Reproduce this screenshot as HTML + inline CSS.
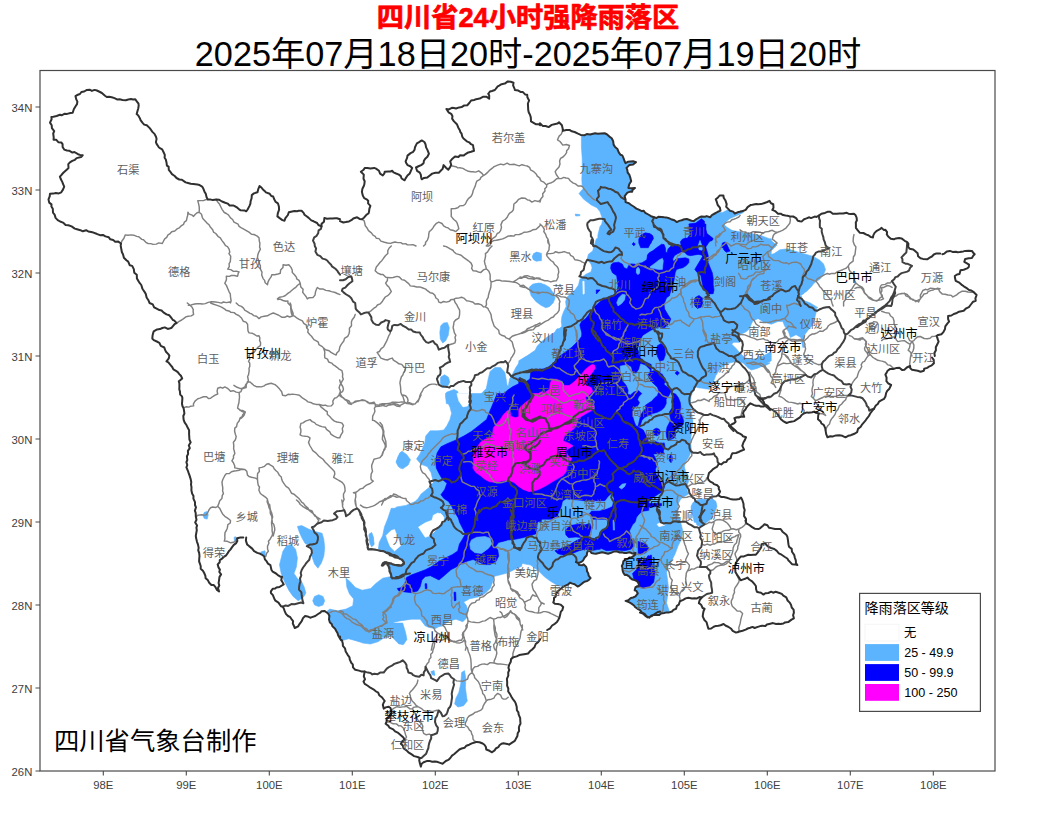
<!DOCTYPE html>
<html><head><meta charset="utf-8"><title>四川省24小时强降雨落区</title>
<style>
html,body{margin:0;padding:0;background:#fff;}
body{width:1055px;height:821px;overflow:hidden;font-family:"Liberation Sans",sans-serif;}
svg{display:block;}
.tk{font-family:"Liberation Sans",sans-serif;font-size:11.3px;fill:#404040;}
.lg{font-family:"Liberation Sans",sans-serif;font-size:12.6px;fill:#000;}
.cn{font-family:"Liberation Sans","Noto Sans CJK SC",sans-serif;font-size:11.2px;fill:#606060;}
.cb{font-family:"Liberation Sans","Noto Sans CJK SC",sans-serif;font-size:12.4px;fill:#000000;}
</style></head><body>
<svg width="1055" height="821" viewBox="0 0 1055 821">
<clipPath id="cp"><path d="M195.8 535.9 196.4 527.6 195.8 516.3 195 502.1 192.1 493.5 190.7 479.3 187.9 470.8 186.4 462.2 187.9 450.9 190.7 442.3 187.9 428.1 183.6 419.6 183.6 408.2 182.2 401.1 179.9 391.2 178.8 381.2 182.2 378.4 179.3 374.1 172.2 367 166.5 361.3 169.4 355.6 165.1 349.9 159.4 342.8 152.3 338.5 153.7 331.4 162.3 328 169.4 328.6 176.5 322.9 170.8 317.2 159.4 310.1 149.5 303 149.5 302.9 146.6 297.5 138.1 280.4 133.8 269.1 123.9 257.7 121 243.5 105.4 236.4 91.2 232.1 77 229.2 65.6 225 55.6 217.9 51.4 206.5 48.5 199.4 50 193.7 61.3 192.3 64.2 186.6 59.9 176.6 67 169.5 69.9 162.4 82.7 155.3 64.2 149.6 61.3 142.5 53.6 139.7 54.2 131.1 50 122.6 51.4 116.9 72.7 112.7 77 104.1 75.5 96.2 86.9 89.9 96.9 90.5 106.8 97 122.5 99.9 135.3 99.3 138.7 105.5 136.7 114.1 142.4 122.6 150.9 129.7 156 136.8 156.6 143.9 163.7 152.5 166.5 162.4 170.8 172.4 179.3 179.5 190.7 183.7 202.1 186.6 207.8 199.4 216.3 199.4 227.7 203.6 239.1 209.3 246.2 211.3 250.4 203.6 251.8 195.1 257.5 192.3 259.5 186 264.6 190.9 273.2 196.5 278.9 206.5 277.4 216.4 284.5 220.7 288.8 212.2 301.6 210.8 308.7 217.9 321.5 226.4 324.4 217.9 340 219.3 340 221.1 345.7 222.1 351.4 220.2 357.1 217.3 361.9 219.2 368.5 213.5 370.4 205.9 366.6 199.3 362.8 195.5 362.4 188.8 364.7 181.2 363.8 174.6 360.9 171.7 364.7 167.9 374.2 167.9 379 170.8 382.8 175.5 384.7 171.7 392.3 170.8 398.9 174.6 404.6 180.3 407.5 175.5 412.2 167.9 407.5 165.1 405.6 161.3 407.5 155.6 413.2 151.8 416 145.1 421.7 140.4 425.5 144.2 427.4 149.9 428.9 153.7 425.5 158.4 423.6 163.2 416 167.5 417 170.8 420.8 174.6 421.7 179.3 427.4 177.4 432.2 173.6 438.8 172.7 442.6 168.9 443.6 165.1 448.3 169.8 451.2 165.1 450.2 161.3 455 156.5 463.5 155.6 471.1 151.8 474 150.8 473 145.1 469.2 142.3 463.5 138.5 461.6 133.7 459.7 129.9 456.9 124.2 454 121.4 451.2 113.8 446.4 109 454 108.1 461.6 107.1 467.3 105.2 471.1 100.5 479.7 98.6 486.3 96.7 489.2 98.6 488.2 93.8 492 91 494.9 90 495.8 88.8 499.2 85.6 507.8 81.4 513.5 82.8 514.6 88.8 514.8 90 520.5 91.9 527.2 94.8 529.1 100.5 528.1 107.1 530 114.7 531 121.4 535.7 124.2 540.1 125.2 540 123.3 542.9 126.1 548.6 127.1 554.3 124.2 559 122.3 561.9 125.2 562.8 130.9 569.5 129.9 578 133.7 584.7 135.2 595.1 133.3 604.6 133.3 609.4 136.6 613.2 141.3 615.1 147 618.9 152.7 623.6 158.4 625.5 163.2 633.1 161.3 636 162.2 633.1 164.5 629.3 165.1 626.5 167.9 629.3 174.6 631.2 181.2 628.4 187.9 635 187.9 632.2 191.7 627.4 192.6 624.6 196.4 625.5 202.1 631.2 205 638.8 209.7 643.6 210.7 648.3 214.5 654 217.3 661.6 216.9 669.2 218.3 676.8 222.1 684.4 219.2 693.9 221.1 701.5 216.4 710.1 217.3 714.8 213.5 720.5 210.7 717.7 205 715.8 199.3 719.6 195.5 723.4 195.5 725.3 200.2 726.2 206.9 730 210.7 734.8 213.5 740.1 211.6 740 211.8 745.7 209.9 750.5 205.1 758.1 204.2 763.8 203.2 769.5 200.9 773.3 204.2 772.3 209.9 778 213.7 785.6 215.6 793.2 216.5 799.9 221.3 806.5 218.4 818.9 215.6 827.4 211.8 836.9 213.7 846.4 212.7 854 213.7 856.9 220.3 855.9 227.9 859.7 232.7 866.4 234.6 873 237.4 876.8 230.8 881.6 227.9 885.4 229.8 888.2 236.5 893.9 239.3 901.5 238.4 907.2 242.2 908.2 246.9 914.8 250.7 920.5 258.3 927.2 259.3 933.8 254.5 940.1 253.6 942.4 254.2 950 250.9 957.6 252.3 965.2 250.9 971.9 250.9 974.7 254.2 971.9 258 965.2 258.9 964.3 261.8 969 264.6 967.1 268.4 960.5 270.3 959.5 274.1 954.8 276 955.7 280.8 961.4 284.6 967.1 288.4 973.8 292.2 976.6 295 975.7 300.7 970.9 304.5 966.2 308.3 961.4 311.2 953.8 314 948.1 315.9 949.1 321.6 945.3 326.4 943.4 332.1 936.7 335.9 938.6 341.6 935.8 347.3 934.8 356 932 357.5 933.9 363.2 927.2 367.9 920.6 371.7 912 369.8 910.1 366 904.4 369.8 896.8 367.9 890.2 368.9 885.4 374.6 886.4 381.2 891.1 385 887.3 390.7 885.4 396.4 881.6 400.2 877.8 404 874 408.8 870.2 413.5 866.4 419.2 860.7 426.8 855 433.5 845.5 437.3 836 435.4 827.5 437.3 825.6 430.6 823.7 424.9 818 419.2 818.9 413.5 814.2 411.6 803.7 413.5 799.9 417.3 794.2 421.1 786.6 423 780.9 419.2 775.2 411.6 767.6 405.9 763.8 402.1 760 398.3 763.9 406.4 759 405.7 754.1 405.1 750.4 403.3 747.9 405.7 745.5 409.4 743 413.1 744.2 416.8 739.3 417.4 734.4 418.1 735.6 421.8 731.9 424.2 729.4 426.1 730 426.2 734.9 429.9 739.8 433.6 746 437.3 743.5 442.2 742.3 445.9 744.1 449.6 738.6 452 732.4 453.3 730.6 458.2 726.3 461.9 721.3 464.4 718.9 463.7 717 466.8 712.7 469.3 709 473 707.8 477.9 710.2 481.6 713.9 484.1 718.9 487.2 720.1 491.5 718.2 495.2 723.8 497 730 498.9 736.1 499.5 741 497.6 743.5 503.8 744.7 510 744.1 516.1 746 521 745.5 520.5 746.4 523.3 752.1 527.1 758.8 529 764.5 524.3 771.1 528.1 780.6 529 786.3 534.7 788.2 542.3 792 551.8 795.8 560.4 797.3 565.1 792 564.2 787.3 558.5 781.6 554.7 776.8 550.9 771.1 548 765.4 543.3 761.6 544.2 758.8 550.9 755.9 554.7 748.3 554.7 740.7 556.6 736.9 561.3 735 567 736.9 574.6 740.7 580.3 747.4 577.5 752.1 581.3 755.9 586 756.9 591.7 763.5 594.6 771.1 591.7 778.7 592.7 786.3 597.4 791.1 605 793.9 612.6 793.9 618.3 788.2 622.1 780.6 624 773 623.1 765.4 625.9 757.8 626.9 750.2 627.8 742.6 630.7 736 632.6 731.2 628.8 723.6 624 716 625.9 708.4 628.8 706.5 622.1 702.7 616.4 704.6 608.8 698.9 603.1 701.8 597.4 697 598.4 685.6 598.4 679.9 601.2 676.1 608.8 668.5 612.6 660.9 613.6 651.4 616.4 647.6 617.4 640 612.6 660 611.6 653.8 614.6 649.2 617.7 644.6 613.9 640.1 610.1 634 605.5 629.4 602.4 625.6 600.9 630.9 597.9 635.5 596.4 637.8 593.3 634.7 590.3 635.5 587.2 639.3 585.7 637.8 581.9 632.5 579.6 629.4 576.6 624.8 575 622.6 570.5 621.8 565.9 623.3 561.3 629.4 557.5 634.7 555.2 635.5 553 629.4 552.2 621.8 552.2 614.2 551.4 608.1 553.7 602 552.2 595.9 553.7 591.4 553 588.3 549.9 586.8 555.2 583 560.6 579.2 562.9 576.1 562.1 579.2 565.1 583.7 564.4 586.8 568.9 588.3 573.5 590.6 578.1 586.8 581.1 582.2 583.4 577.6 586.5 574.6 584.2 570 582.6 565.5 585.7 560.9 588.7 556.3 593.3 554 597.9 553.3 602.4 557.9 604 563.2 607 560.9 611.6 559.4 617.7 554.8 623.8 550.2 628.3 547.2 630 540.1 639.3 535.7 644 531.9 649.7 528.1 653.5 522.4 654.5 516.7 656.4 511 659.2 509.1 664.9 508.2 672.5 507.2 682 508.2 691.5 512.9 699.1 516.7 706.7 518.6 714.3 520.5 723.8 517.7 733.3 514.8 740.9 509.1 744.7 501.5 743.8 495.8 748.5 492 752.3 486.3 749.5 484.4 744.7 476.8 741.9 469.2 744.7 461.6 748.5 454 754.2 448.3 759.9 442.6 763.7 436.9 761.8 429.3 760.9 421.7 763.7 420.8 766.6 419.8 758 414.1 756.1 408.4 752.3 403.7 748.5 400.8 743.8 404.6 740 400.8 735.2 395.1 731.4 389.4 727.6 385.6 723.8 386.6 719.1 390.4 716.2 391.3 710.5 388.5 706.7 383.7 708.6 382.8 704.8 384.7 701 381.8 697.2 376.1 691.5 370.4 687.7 364.7 683.9 363.8 676.3 364.7 671.6 359 670.6 355.2 669.7 351.4 663 349.5 657.3 345.7 651.6 342.9 645.9 341.9 640.2 340 636.4 340.9 640.1 337.5 633.1 332.4 626.3 329 619.4 328.1 613.5 324.7 610.9 320.4 612.6 315.3 616 310.2 617.7 305.1 616 301.7 621.1 298.2 626.3 294.8 628 293.1 621.1 288 616 284.6 610.9 282.9 606.6 279.5 604.1 274.4 599 270.9 593 272.7 588.7 279.5 587 283.7 584.5 281.2 580.2 282 576.8 277.8 575.1 272.7 571.7 270.9 567.4 266.7 561.4 264.1 556.3 257.3 552.9 252.2 548.6 247.1 544.4 246.2 537.5 243.3 537.4 237.1 538.3 236.2 543.1 231.9 547.4 227.7 553.1 222 558.7 217.7 564.4 221.1 574.4 218.6 582.9 219.1 591.5 207.8 580.1 200.7 568.7 199.2 553.1 195.8 536Z"/></clipPath>
<g clip-path="url(#cp)">
<path d="M204.1 512.6 206.9 511.4 208.3 514.8 207.2 519.1 204.4 518.5 202.9 515.7ZM297.4 526.4 301.7 525.6 308.5 529 315.3 531.6 322.1 533.3 323.8 539.2 324.7 547.8 323.8 556.3 321.3 563.1 317.9 568.2 314.5 564 311.9 556.3 312.7 549.5 310.2 546.1 305.1 543.5 301.7 537.5 299.1 531.6ZM282.9 551.2 286.3 546.1 291.4 544.4 295.7 549.5 297.4 558 296.5 566.5 294 573.4 297.4 578.5 301.7 581.9 304.2 587 305.9 593 303.4 597.3 298.2 600.7 293.1 596.4 288.9 590.4 284.6 581.9 281.2 573.4 279.5 564.8 281.2 558ZM260.7 552 265 550.8 265.5 555.5 262.8 556ZM234.1 537.2 235.8 536.7 236.1 540.9 234.4 541.3ZM312.7 600.7 314.5 596.4 318.7 594.7 323 596.4 324.7 600.7 323 604.9 318.7 606.6 314.5 604.9ZM369.1 534.1 371.6 532.4 373.3 536.7 374.2 544.4 371.6 546.9 369.6 542.7ZM616 128 635 156.5 743.3 192.6 743.3 247.7 597 247.7 598 234.4 599.9 226.8 601.8 224 602.7 219.2 599.9 211.6 597 207.8 591.3 205 583.7 199.3 579 193.6 583.7 187.9 582.2 186 581.8 179.3 582.2 169.8 582.2 158.4 581.4 147 581.4 128ZM575.2 214.1 579.9 214.5 579.9 215.8 575.7 216ZM738.1 231.7 751.4 233.6 760.9 235.5 768.5 238.4 774.2 243.1 777.1 245 771.4 250.7 768.5 255.5 774.2 253.6 779.9 249.8 787.5 248.8 797 251.7 806.5 254.5 813.2 256.4 819.8 260.2 823.6 264 825.5 269.7 823.6 274.5 819.8 279.2 814.1 283 811.3 286.8 806.5 291.6 800.8 294.4 802.7 300.1 810.3 303 817.9 307.7 738.1 307.7ZM443.6 323 447.4 322.6 449.3 327.7 448.3 335.3 445.5 341 442.6 342.9 440.3 339.1 439.8 332.5 440.7 325.8ZM532.9 255.5 536.7 252.7 541.4 253.2 541.4 260.8 535.7 260.8 532.9 258.4ZM530 286.9 533.8 284 541.4 283.1 541.4 303 535.7 301.1 531 295.4ZM440.7 377.1 444.5 374.8 448.3 377.1 449.8 381.9 447.4 386.6 442.6 387.6 440.3 382.8ZM446.4 392.3 454 389.5 457.8 391.4 458.8 398 459.7 403.7 446.4 403.7 445.5 396.1ZM471.1 403.7 473 398 480.6 394.2 486.3 388.5 488.2 379 490.1 371.4 494.9 367.6 500.6 367.6 504.9 372.4 506.1 379 507.2 385.7 508.4 385.7 509.5 379 512.9 373.3 515.8 367.6 519.6 361.9 525.3 357.2 531.9 352.4 540.1 347.7 543.3 346.7 543.3 403.7ZM651.2 238.8 651.2 342.3 542.2 342.3 547.1 338.6 552 334.9 557 330.6 561.9 326.3 561.3 321.3 561.9 316.4 563.7 311.5 566.2 306.5 565.6 301.6 567.4 296.7 571.8 293 575.5 289.3 578.5 285 579.8 279.4 582.8 276.4 586.5 273.9 590.9 272 592.1 267.7 590.9 264 587.2 259.1 588.4 254.2 592.7 251.1 593.9 246.2 596.4 238.8ZM529.2 287.4 532.3 284.4 538.5 283.1 544.6 284.4 549.6 287.4 553.3 293 555.1 297.9 553.3 302.8 549.6 306.5 545.9 307.8 540.9 305.3 536 301.6 532.3 296.7 529.9 291.8ZM532.3 256.6 533.6 253.6 536.6 252.1 539.7 252.9 541.2 256.6 539.7 260.3 536.6 261.2 533.3 259.7ZM638.8 238.8 771.2 238.8 771.2 316.4 763.2 317 757.1 318.9 752.7 321.3 750.9 325 749.7 328.7 746 331.8 741 334.3 738.6 337.3 739.8 342.3 638.8 342.3ZM651.2 328.8 651.2 432.3 518.8 432.3 518.8 360.8 524.9 357.1 529.9 354.6 534.8 350.9 537.3 346 542.2 341.1 548.3 336.2 554.5 332.5 557 328.8ZM638.8 328.8 733.6 328.8 737.3 332.5 738.6 334.9 734.9 339.9 731.8 344.2 736.1 348.5 739.8 352.8 744.7 357.7 750.9 359.3 757.1 358.6 763.2 356.1 771.2 351.6 771.2 360.8 763.2 365.5 757.1 368.4 751.5 370 748.4 368.2 743.5 363.3 738.6 361.4 733.6 362 728.7 363.3 723.8 365.7 718.9 370.7 715.8 375.6 713.9 380.5 712.7 384.2 710.2 387.9 705.3 389.1 700.4 387.9 696.7 388.5 694.2 391.6 692.4 396.5 690.5 401.5 691.1 406.4 693 411.3 694.2 416.3 694.8 421.2 693.6 426.1 691.8 432.3 638.8 432.3ZM758.1 288.1 807.5 288.1 803.7 293.8 798 296.7 803.7 301.4 811.3 305.2 817 309 815.1 316.6 813.2 324.2 807.5 330.9 804.1 335.6 803.3 343.2 805.2 347 802.8 347.4 800.9 337.5 796.1 334.7 790.4 337.5 788.5 331.8 784.7 326.1 782.8 321.4 778.1 321.4 771.4 324.2 763.8 322.3 758.1 318.5ZM758.1 355.6 767.6 359.9 769.9 363.2 763.8 366.4 758.1 367ZM693.6 418.8 693 426.2 691.8 432.3 691.1 437.3 692.4 442.2 691.1 448.3 690.5 453.3 688.1 458.2 685.6 461.9 684.4 466.8 685.6 471.8 687.4 475.5 688.7 480.4 687.4 485.3 686.8 489 688.7 493.9 684.4 496.4 680.7 498.9 678.2 503.8 677.6 510 678.2 516.1 677 522.3 638.8 522.3 638.8 418.8ZM691.1 506.3 693 502.6 696.7 500.1 701.6 498.9 709 499.5 712.7 498.9 715.8 501.3 717 506.3 715.2 511.2 712.7 516.1 710.2 519.8 706.5 522.3 694.2 522.3 693 516.1 691.1 511.2ZM714.1 508.1 710.7 513.8 706.9 521.4 702.7 526.7 697 525.2 694.2 517.6 691.7 508.1ZM638.1 508.1 677.6 508.1 678 517.6 680.9 523.3 682.8 530.9 681.8 538.5 678 546.1 675.2 553.7 672.3 559.4 668.5 565.1 666.6 572.7 667.6 580.3 668.5 587.9 667.6 595.5 666.6 603.1 668.5 608.8 670 613.6 670 624 638.1 624ZM498.5 503.5 661.5 503.5 661.5 613.9 654.5 616.9 649.2 620 643.1 615.4 637 610.1 630.9 605.5 623.3 601.7 629.4 596.4 635.5 594.8 632.5 590.3 633.2 586.5 637 584.9 635.5 582.6 630.9 581.1 623.3 576.6 620.3 570.5 619.5 565.1 621.8 559.8 628.7 556 632.5 554.5 621.8 554 614.2 553.4 608.1 555.7 602 554 595.9 555.7 591.4 554.9 589.1 553 588.3 556.8 584.5 562.1 580.7 564.7 584.5 565.9 588.3 569.7 590.1 573.5 592.6 578.8 588.3 582.3 583 584.9 577.6 588.4 573.8 586 570 584.5 566.2 587.2 557.9 585.7 550.2 581.1 544.2 576.6 538.1 570.5 530.5 565.1 522.8 563.6 515.2 568.2 507.6 572 498.5 574.3ZM541.5 393.5 541.5 521.4 389.9 521.4 392.2 510.7 396.7 506.9 405.9 505.4 415 501.6 418.1 498.5 421.1 494 425.7 490.2 430.2 486.4 433.3 482.5 432.5 478.7 431 472.6 427.2 466.6 421.1 464.3 416.5 458.9 419.6 454.4 422.6 448.3 424.9 442.2 425.7 436.1 430.2 430.8 437.9 430.8 443.9 430 447 425.5 450 419.4 451.6 413.3 450 407.2 447 401.1 445.5 393.5ZM396 462 398.3 455.9 402.1 451.3 406.6 454.4 410.5 459.7 408.2 465 402.8 468.8 398.3 466.6ZM521.7 508.3 521.7 566.3 514 569.7 507.2 573.1 500.4 574.8 493.6 576.5 492.7 581.7 490.1 588.5 485 593.6 478.2 597 469.7 598.7 463.7 602.1 466.3 605.5 468 610.7 467.1 617.5 462.8 621.8 456 619.2 449.2 620.9 442.4 626 432.1 627.7 425.3 626 420.2 619.2 411.7 619.2 399.7 620.9 392.9 622.6 396.3 626 403.1 632.8 406.5 639.7 403.1 644.8 398 643.1 391.2 636.3 379.2 638 370.7 641.4 358.8 641.4 348.5 638.8 339.1 641.5 336.6 634.7 331.5 627 327.2 619.4 325.5 612.5 329.8 609.1 337.4 610.8 346 609.1 352.8 605.7 353.6 598.9 349.4 593.8 346.8 586.9 346 578.2 350.2 581.7 355.4 587.6 362.2 590.2 370.7 588.5 375.8 583.4 382.7 578.2 391.2 576.5 389.5 569.7 387.8 563.7 392.9 564.6 401.4 565.5 404 562.9 399.7 558.6 392.9 556.1 386.1 552.7 378.4 548.9 379.2 542.4 382.7 535.6 384.4 527.1 387.8 518.5 391.2 508.3ZM369 535.6 371.6 533 373.3 539 372.4 543.3 369.9 540.7ZM338.1 623.1 402.7 623.1 405.6 632.6 406.9 639.3 403.7 644 398.9 644 396.6 638.3 392.3 634.5 385.6 636.8 378 641.7 370.4 644 362.8 643.1 355.2 640.2 347.6 636.8 338.1 633.6ZM440.7 623.1 439.8 626 435 628.8 427.4 626.9 423.6 623.1ZM430.8 671.6 434.1 670.6 435 675.4 432.2 674.8ZM461.6 672.5 464.5 670.6 465.8 678.2 465.4 687.7 466.4 695.3 467.3 701 463.5 705.8 457.8 707.1 454.6 703.9 455.9 698.2 458.8 692.5 460.7 683.9ZM401.5 468.3 399.9 468 396.5 462.2 399.6 453.1 401.5 451.6Z" fill="#5cb4ff" stroke="#5cb4ff" stroke-width="0.6" stroke-linejoin="round"/>
<path d="M747.1 232.5 731.9 229.7 727.2 226.8 723.9 224 730 219.2 747.1 211.6ZM582.8 281.3 584.1 281.3 584.3 293.6 583.1 294.2ZM657.1 524.3 660.9 522.4 664.7 525.2 659 526.7ZM470.1 393.5 469.5 401.1 467.5 406 463 406.9 458.9 401.1 456.9 393.5ZM431.8 521.4 433.3 515.3 437.9 513 442.4 515.3 444.3 521.4ZM386.1 535.6 391.2 530.5 394.6 529.6 396.3 533.9 398.9 540.7 400.6 545.8 394.6 550.9 390.3 546.7 387.8 540.7ZM418.5 527.1 425.3 522.8 432.1 520.2 435.5 515.1 440.7 513.4 444.1 517.7 440.7 523.6 435.5 530.5 430.4 535.6 425.3 537.3 421.9 532.2ZM713.9 193.6 727.2 193.6 728.5 208.8 722.4 212 717.1 211.6Z" fill="#ffffff" stroke="#ffffff" stroke-width="0.6" stroke-linejoin="round"/>
<path d="M638.8 240.1 640.7 235.4 645.5 232.9 651.2 234.4 653.4 238.2 651.2 242 648.3 247.7 640.7 247.7 638.8 243ZM632.5 243.5 633.7 242.4 634.8 243.5 633.7 244.7ZM689.2 224 695.8 223 701.5 218.8 704.4 221.1 704.9 228.7 707.2 234.4 712.9 239.2 709.1 242 705.3 247.7 680.6 247.7 682.5 241.1 687.3 238.2 690.1 234.4 689.2 228.7ZM722.4 243 725.3 242 728.1 247.7 721.5 247.7ZM543.3 369.1 543.3 403.7 496.8 403.7 501.5 396.1 507.2 390.4 512.9 386.6 518.6 383.8 524.3 382.8 530 379 531 369.5ZM651.2 238.8 651.2 243.1 645.1 245.2 641.4 243.1 638.9 238.8ZM632.4 244.3 633.6 243.1 634.8 244.3 633.6 245.5ZM611.2 264.6 613.6 262.8 618.6 262.2 622.3 264 624.1 267.7 627.2 269 628.4 265.9 630.9 264 635.8 264.6 638.3 263.4 642 262.8 646.9 259.7 647.5 254.8 651.2 251.7 651.2 342.3 581.6 342.3 582.8 334.9 581 330 579.8 325 581.6 321.3 585.3 318.9 588.4 315.2 590.9 310.9 593.9 307.2 597.6 304.1 601.3 300.4 606.3 297.9 611.2 296.1 614.9 294.2 617.3 290.5 618 285.6 617.3 280.7 616.7 275.7 612.4 272.7 610.6 268.3ZM596.2 289.9 600.1 289.9 596.4 294ZM638.8 294.2 669.6 294.2 669.2 295.8 666.5 297.9 664 304.1 664.6 309 668.3 315.2 670.8 318.9 669 323.8 663.4 328.7 659.7 331.2 652.3 333.6 646.2 335.5 638.8 336.1ZM723.2 245.5 726.3 243.7 730 251.1 726.3 252.3 723.8 249.9ZM694.2 301.6 695.5 297.3 699.1 295.5 702.2 297.9 702.8 302.8 701 307.2 697.3 308.4 694.8 305.9ZM639 239.1 641.1 235.2 644.9 233.1 649.6 233.5 653 236.1 653 239.5 649.6 242.9 646.2 245.9 642.8 243.3 639.8 241.2ZM632.6 244.5 633.8 243.2 635.1 244.5 633.8 245.7ZM629.1 264.2 634.3 264.2 639.4 265.1 643.6 265.1 646.6 262.5 647.5 257.4 648.8 253.2 653 250.6 657.3 247.2 661.6 244.2 664.1 244.6 665.4 248 665.8 252.3 667.1 252.7 668 248.9 670.1 246.8 673.5 245 677.8 245.5 681.2 245 680.3 242.1 682 239.5 685.5 237.8 689.7 239.5 691.4 237.8 692.3 233.5 691 229.3 688.9 224.1 705.9 224.1 705.9 229.3 706.8 233.5 710.2 236.1 713.2 238.6 711.9 240.8 708.5 240.4 705.9 242.9 705.5 246.3 706.8 250.6 708.1 254.9 708.5 259.1 708.1 262.5 710.2 267.7 712.3 272.8 713.2 277.9 713.2 284.7 714 289.8 713.2 293.7 709.3 293.9 706.4 290.7 703.4 288.1 701.7 280.5 700.8 275.3 697.4 272.8 694.8 269.4 697.4 265.1 700 260.8 702.5 256.6 701.7 254.9 698.2 254.4 694.8 254.9 690.6 255.7 687.2 254.9 684.6 252.3 681.2 252.3 677.8 253.6 674.4 255.7 672.7 259.1 673.5 261.7 676.1 259.1 680.3 258.3 685.5 257.8 688.9 259.1 688.9 262.5 686.3 265.5 682.9 267.7 679.5 268.5 676.5 269.4 675.2 272.8 674.4 277.9 673.5 283 671.8 288.1 670.1 293.2 669.2 295.8 629.1 295.8ZM651.2 328.8 651.2 432.3 518.8 432.3 518.8 378.1 522.5 379.3 526.2 382.4 529.9 381.8 530.5 378.1 531.7 373.1 536 371.3 542.2 369.4 548.3 367 553.3 363.3 557 358.3 561.9 354.6 566.8 350.9 571.8 347.3 575.5 343.6 579.1 339.9 581.6 336.2 582.2 328.8ZM657.3 345.4 660.3 343.6 663.4 346 664.6 352.2 665.9 358.3 669.6 362 674.5 363.3 677 367 674.5 369.4 670.8 368.2 668.3 371.9 664.6 375.6 662.2 373.1 659.7 368.2 660.3 362 658.5 356.5 657 350.9ZM675.1 372.1 677.6 369.7 680 372.1 677.6 374.6ZM638.8 328.8 648.6 328.8 647.4 333.7 643.7 335.5 638.8 334.9ZM648.6 372.5 653.6 370.7 658.5 372.5 661.6 376.8 663.4 381.8 667.1 386.1 671.4 387.9 674.5 391.6 677 396.5 679.4 402.7 680.7 408.9 682.5 416.3 683.7 421.2 682.5 427.3 681.3 432.3 665.3 432.3 666.5 427.3 669 422.4 669.6 416.3 670.8 410.1 672.3 405.2 671.4 400.2 669.6 396.5 666.5 395.3 662.8 392.8 658.5 387.9 654.8 383 651.1 379.3 648.6 376.2ZM638.8 399 644.9 403.9 648.6 402.7 653.6 399 658.5 396.5 663.4 397.2 664.6 401.5 665.3 406.4 664 411.3 660.9 415 656 416.3 651.1 418.7 646.2 422.4 641.2 426.1 638.8 427.3ZM518.8 418.8 648.8 418.8 648.8 519.2 518.8 519.2ZM638.8 418.8 648.6 418.8 647.4 424.9 644.9 429.9 643.7 434.8 646.2 438.5 649.9 440.9 652.3 444.6 651.7 449.6 653.6 454.5 656 459.4 657.3 464.4 655.4 469.3 656 474.2 659.7 477.9 663.4 481.6 664.6 486.5 662.8 491.5 658.5 493.9 654.8 496.4 649.9 500.1 647.4 505 646.2 510 643.7 513.6 638.8 514.9ZM665.9 424.9 670.8 418.8 683.1 418.8 681.9 427.4 677 433.6 670.8 436 666.5 432.3ZM652.3 432.3 656 428.6 659.7 432.3 656 436ZM669.3 457 670.8 454.5 672.3 457 672.3 460.7 670.8 462.5 669.3 460.7ZM638.1 558.5 645.7 559.8 648 555.6 650.6 556.6 651.8 567 654.8 574.6 653.7 582.2 649.5 586.4 643.8 588.3 638.1 587ZM638.1 541.4 645.3 543.8 648.6 548 645.7 552.9 638.1 554.8ZM638.1 508.1 645.7 508.1 643.8 512.3 638.1 512.9ZM498.5 503.5 550.2 503.5 547.2 509.6 542.6 514.1 538.1 520.2 536.5 527.8 535.8 533.9 530.5 535.5 522.8 537.7 515.2 539.3 507.6 540 498.5 541.5ZM649.2 503.5 646.2 506.5 641.6 509.6 638.6 514.1 637 520.2 632.5 524.8 629.4 530.9 630.9 535.5 632.5 541.5 634 546.1 630.9 549.2 624.8 550.7 615.7 549.9 606.6 550.7 599 547.6 597.4 541.5 599 537 600.5 531.6 606.6 527.8 608.9 521.7 605.1 518.7 597.4 517.9 591.4 514.1 593.2 511.1 599 511.9 605.1 509.6 606.6 503.5ZM554.8 550.7 560.9 548.4 568.5 545.3 576.1 540.8 582.2 537.7 589.8 537.7 597.4 539.3 600.5 549.2 597.4 549.5 591.4 550.7 585.3 549.2 579.2 550.7 571.6 553.7 563.9 555.2 557.9 553.7ZM565.5 530.1 570 525.6 579.2 524 585.3 524.8 589.8 523.3 591.4 527.8 589.1 535.5 582.2 537.7 576.1 537 568.5 537.7 565.8 534.7ZM632.5 573.5 637 568.9 643.1 565.9 648.4 564.4 650 555.2 651.5 555.2 652.3 565.9 655.3 572 652.3 578.1 650 584.2 644.6 586.5 638.6 584.2 634 579.6ZM639.3 503.5 661.5 503.5 661.5 505.8 656.8 506.5 646.2 507.3 640.1 506.2ZM541.5 393.5 541.5 521.4 460.7 521.4 457.6 516.8 454.6 512.2 451.6 506.1 448.5 501.6 443.9 498.5 440.9 494.7 444.7 489.4 447 483.3 442.4 479.5 439.4 474.2 436.3 468.1 435.6 460.5 437.1 452.9 440.9 446.8 447 443.7 456.1 439.9 463.7 436.1 471.4 431.5 479 425.5 486.6 419.4 489.6 411.7 493.4 402.6 497.2 393.5ZM521.7 508.3 521.7 533.9 512.3 537.3 505.5 540.7 498.7 542.4 495.3 546.7 497.8 550.1 498.7 556.1 496.1 561.2 490.1 564.6 484.2 564.6 479.1 562 473.1 559.5 467.1 561.2 462.8 562.9 457.7 566.3 450.9 569.7 444.1 575.7 439 580 435.5 578.2 430.4 575.7 425.3 576.5 421.9 580 420.2 586.8 417.6 591 411.7 592.7 404.8 591.9 398.9 591 397.2 588.5 401.4 587.6 404.8 583.4 406.5 577.4 411.7 574.8 418.5 572.3 425.3 569.7 432.1 566.3 439 561.2 445.8 557.8 452.6 554.4 457.7 550.9 459.4 544.1 462 539.9 465.4 533.9 462.8 528.8 459.4 521.9 457.7 515.1 459.4 508.3ZM425 583.7 426.7 583.7 427 588.5 425.3 588.8ZM454 592.2 455.7 592.2 456 600.4 454.3 600.8Z" fill="#0000ff" stroke="#0000ff" stroke-width="0.6" stroke-linejoin="round"/>
<path d="M616.7 302.8 618.6 297.9 622.3 294.2 625.4 294.8 624.7 299.8 621.7 303.5 618 305.9ZM636.4 269 637.9 267.4 639.5 269 639.3 272.7 637.9 274.3 636.6 272.7ZM650 266.8 654.7 263.4 659 260 662.4 258.3 663.3 260.8 662.8 265.1 662.4 269.4 658.2 269.4 653.9 268.5 650.5 268.1ZM636.4 270.2 638.1 267.2 639.8 270.2 639.4 273.6 637.7 274.5 636.4 272.8ZM700 240.4 702.5 247.2 702.1 250.2 699.1 249.7 698.2 245.5ZM643.8 418.8 641.4 424.9 637.7 426.8 634.6 423.7 632.7 418.8ZM641.7 430.5 643.6 431.7 643.8 437.3 642.2 438.5ZM647.5 428.6 651.2 428.6 651.2 445.9 648.2 443.4ZM618.9 487.2 622.3 484.1 626 483.5 624.7 486.5 621.7 489ZM549.6 522.3 557 517.3 559.4 512.4 561.9 506.3 563.1 501.3 566.8 498.9 573 500.1 584.1 501.3 596.4 501.3 605 501.3 608.7 496.4 611.8 493.9 613.6 498.9 611.8 506.3 606.3 508.7 598.9 510.6 591.5 510.6 589 513.6 590.9 518.6 592.7 522.3ZM643.2 511.8 651.2 510.6 651.2 522.3 635.8 522.3 637.1 517.3 640.1 513.6ZM613 520.2 614.2 520.2 614.5 530.1 613.3 530.1ZM471.4 539.9 476.5 537.3 485 536.4 490.1 538.2 491.8 544.1 488.4 548.4 485 550.9 481.6 553.5 474.8 552.7 470.5 549.2 469.7 544.1ZM610.6 375.6 709.5 375.6 709.5 452.4 610.6 452.4ZM643 335.8 651.4 330.5 659 327.4 666.6 328.9 669.6 339.6 671.1 350.2 675.7 363.9 681.8 373.1 678.8 379.2 672.7 385.3 666.6 379.2 657.4 368.5 651.4 363.9 642.2 359.7 639.2 354.8 638 348.7 639.9 341.9ZM620.1 366.2 627 364.7 630.8 367 632.3 373.1 636.1 373.8 639.2 369.3 640.7 363.9 645.3 365.5 649.8 370 648.3 376.1 645.3 382.2 640.7 385.3 639.2 391.4 636.1 397.4 631.6 399.7 627 397.4 625.5 389.8 623.9 382.2 620.9 374.6Z" fill="#5cb4ff" stroke="#5cb4ff" stroke-width="0.6" stroke-linejoin="round"/>
<path d="M696 387.8 699.3 388.5 705 389.3 710.7 390.2 710.7 453.9 692.8 453.9 691.7 447.2 691.2 441.5 691.7 435.8 692.7 430.1 693.6 424.4 693.1 418.7 692.2 413 691.2 407.3 690.8 401.6 691.7 395.9 693.6 391.2Z" fill="#ffffff" stroke="#ffffff" stroke-width="0.6" stroke-linejoin="round"/>
<path d="M609.2 374.2 620.5 374.2 622.4 380.7 626.2 385.5 628.1 390.2 627.6 394 630.4 395 633.8 392.1 638.5 390.7 641.8 393.5 638.5 396.9 637.6 399.7 639.5 402.6 638 405.4 633.8 407.3 632.3 412.1 632.8 416.8 634.2 421.6 635.7 425.4 637.6 426.8 640.4 428.2 643.3 430.1 646.1 435.8 648 441.5 651.8 445.3 652.3 450.1 651.8 453.9 609.2 453.9ZM662.3 374.2 661.5 378.8 662.4 382.6 665.3 385.5 669.1 388.3 671 391.2 668.9 395.4 666.1 399.2 666.2 403.5 664.3 407.5 661.3 410.3 657.5 412.2 652.8 413.5 648 415.4 644.2 417.8 641.8 420.6 640.4 424.9 637.6 426.8 638.5 424.4 639.6 419.7 640.6 414.9 643.3 411.1 645.9 408.3 645.2 405.4 648 403.5 651.8 401.1 654.7 397.8 657.5 395.4 658.9 391.2 657.5 387.4 653.7 383.6 649.9 379.8 648 374.2ZM672.7 393.1 675.6 394 678.4 397.8 680.3 402.6 680.8 407.3 679.8 412.1 682.2 416.8 683.6 420.6 683.2 424.4 680.3 426.8 677.5 428.2 674.6 431.1 675.6 434.9 674.6 437.7 670.8 439.6 668 440.6 666.5 436.8 666.1 432 667 427.3 668.9 423.5 670.8 419.7 669.9 415.9 669.4 412.1 671.8 408.3 673.2 403.5 672.7 397.8ZM652.8 432 653.9 429.3 656.6 428.2 659.2 429.3 660.4 432 659.2 434.7 656.6 435.8 653.9 434.7ZM651.8 443.4 655.6 441.5 660.4 443.4 664.2 442.9 665.1 447.2 663.2 451 664.2 453.9 650.9 453.9ZM657.4 345.7 661.2 343.4 664.8 347.2 665.4 354.8 663.5 360.1 659.7 360.9 657.4 356.3 656.8 350.2ZM649.1 374.6 652.9 371.6 659 371.6 663.5 376.1 665.1 382.2 662 386.8 657.4 385.3 652.9 383 649.8 379.2ZM675.1 373.1 677.2 371 679.4 373.1 677.2 375.2Z" fill="#0000ff" stroke="#0000ff" stroke-width="0.6" stroke-linejoin="round"/>
<path d="M543.3 403.7 531.9 403.7 535.7 396.1 540.1 392.3 543.3 391.4ZM592.1 364.5 594.5 365.1 595.2 368.2 592.7 371.9 589 376.8 586.5 381.8 587.2 385.5 591.5 387.9 592.7 391.6 589 395.3 585.3 397.2 586.5 400.9 591.5 402.7 593.9 406.4 592.7 410.1 587.8 412.6 581.6 416.3 575.5 420 569.3 423.6 563.1 427.3 557 432.3 518.8 432.3 518.8 408.9 523.7 403.9 528.6 400.2 533.6 397.2 538.5 395.3 544.6 392.8 549.6 389.1 550.2 383 552 379.3 557 379.3 561.9 381.8 564.4 385.5 569.3 385.5 574.2 381.8 577.9 378.1 581.6 374.4 585.3 369.4 589 366.4ZM518.8 418.8 577.9 418.8 576.7 424.9 574.2 428.6 569.3 432.3 564.4 436 563.1 440.9 569.3 443.4 573 445.9 569.3 448.3 565.6 450.8 568.1 455.7 571.8 458.2 569.3 463.1 566.8 466.8 566.2 471.8 563.1 475.5 557 479.1 550.8 482.8 544.6 486.5 538.5 489.6 532.3 491.5 527.4 490.2 522.5 487.8 518.8 485.9ZM541.5 393.5 541.5 483.3 536.8 486.4 533.8 490.2 529.2 491.7 523.1 489.4 518.6 486.4 514 482.5 507.9 480.3 501.8 481 495.7 482.5 489.6 481.8 485.1 479.5 480.5 475.7 475.9 472.6 472.9 468.1 473.6 462 472.9 455.9 474.4 451.3 477.4 446.8 480.5 442.2 485.1 439.2 490.4 437.6 492.7 433.1 493.4 427.7 496.5 423.9 500.3 419.4 503.3 414.8 507.9 410.2 510.2 411.7 510.9 416.3 515.5 417.8 521.6 415.6 524.6 411.7 526.2 405.7 530.7 399.6 532.3 393.5Z" fill="#ff00ff" stroke="#ff00ff" stroke-width="0.6" stroke-linejoin="round"/>
</g>
<path d="M121 243.5 121.9 241 123.8 238.5 125.3 234.9 127.9 235.3 131.1 234.9 133.8 235.2 136.7 236.4 138.8 236.8 141.8 239.4 143.5 239.8 146.3 242.7 148.1 243.5 150.8 243.6 153 244.4 156.3 244.1 158.8 242.9 162.3 243.5 163.7 240.7 164.7 238.8 166.7 237.4 168 234.9 169.7 233.9 171.7 231.7 174.8 231 177 228.9 179.3 227.8 180.8 226.2 183.5 224.4 184.4 222.1 186.4 220.7 187.1 217.3 187.7 215.5 187.9 212.2 188.8 213.9 192.1 215.1 193.6 216.4 195.1 214.5 197.1 212.8 199.2 212.2 199.3 209.2 199.2 206.7 198.5 203.4 197.8 200.8 200.2 200.6 203.6 200.6 205.6 199.7 207.8 199.4M199.2 212.2 201.5 214.2 202.3 217.3 202.8 218.6 204.9 220.7 207 223.1 209 224.7 210.1 226.7 212.7 229.7 213.5 232.1 215.8 233.5 218.3 236.7 220.3 237.9 222 240.6 224.1 243.3 225.5 245.7 227.5 246.6 229.1 249.1 229.8 252.2 228.9 253.6 230.7 256.1 230.5 259.1 230.3 261.7 229.1 263.7 229.3 266.7 227.7 269.1 230.7 269.6 233.5 271.4 236.4 271.3 239.1 271.9 238.3 273.2 237.6 276.2 234.3 275.5 231.4 275.5 229.3 276.4 226.3 276.2 226.5 278.9 226.2 280.4 224.8 283.3 226.4 285.4 227.6 288.2 229.1 291.8 230.3 293.9 230.5 297 231.1 300.6 230.5 302.9M216.3 199.4 217.3 201.5 219.4 203.9 220.5 206.2 222 209.3 224.3 212.5 226.3 213.5 228.4 214.8 230.5 217.9 232.6 219.5 234 222.2 238.1 224.2 239.1 226.4 241 227.6 243.3 228.9 247.2 231.1 249 232.1 251.5 234.3 254 234.5 257.2 236.1 259 237.8 259.3 241.1 259.9 243 259.6 247.2 260.4 249.1 258.7 252.3 257.8 255 257.5 257.7 258.7 260.5 259 262.6 260.4 265.7 260.4 269.1 262 272.1 261.7 275 263.1 278.6 264.6 280.4 265.2 282.8 267.5 284.7 267.9 282.4 269 279.9 271.2 276.7 271.8 274.7 274.7 274.8 278 274 280.3 273.3 280.6 270 283 267.4 283.1 264.8 285.9 265.3 288.8 264.8 291 267.4 292.2 270 292.3 272.5 294.5 274.7 296.5 277.4 296.7 278.8 299 280.3 300.2 283.3 300.8 286.9 303.1 289.2 302.7 292.3 304.5 294.6 306.2 296.7 307.3 298.9 309.2 297.7 313 297.5 315 295.1 315.5 291.8 316.4 289.4 317.3 287.5 319.5 288.9 322.8 288.9 325.8 290.4 328.9 290.8 331.5 291.6 335.2 292.5 337.2 293.5 340 294.6M300.2 283.3 297.6 285.3 295.8 287.3 294.2 288.4 292.8 289.5 290.2 291.8 288.2 293.1 285.1 295.7 282.8 296.6 279.7 297.2 277.4 298.9M176.5 323.5 178.7 321.6 181.7 320 183.6 318.6 185.9 316.9 188.1 316.2 191.3 315.9 193.6 314.4 193.1 311.6 193.3 309.6 192.1 307.3 189.8 305 187.3 303M210.6 303 213.7 304.2 216.4 305.1 219.9 306.4 222 307.3 224.8 309.1 226 310.2 229.7 311.3 230.6 312.3 234.1 312.6 236.2 314.4 238.7 315.5 241.5 318 243.2 321.2 246 322.1 247.6 324.3 247.7 326.6 248 330.9 249 332.9 252.4 333.3 254 334.1 256.8 336 259 335.7 259.9 338 259.6 340.4 260.6 342.8 260.4 345.7 258.5 346.8 255.9 349.5 254.3 352.1 251.1 353.5 249 355.6 249.8 359 248.5 361.5 249.7 362.9 249.8 366.3 249 368.4 249.2 370.7 248.5 374.8 247.6 376.5 248.4 380.5 247.6 382.6 245.6 384.8 245.2 386.5 242.3 388.3 240.9 391.7 239.1 392.6M236.2 303 238.6 305.3 241.4 306.4 243.5 308.1 244.7 310.1 246.9 311.3 250 313.4 251.5 313.7 253.8 315.6 256.5 316.3 259 318.6 261.1 316.9 264.3 316.2 267.4 315.8 269.9 314.3 273.2 313 275.4 313.8 278.3 315 281.7 317.2 284.7 317.3 287.3 316 289.7 317 293.1 315.8 293.1 313.2 291.8 310.1 291.2 308.2 290.9 304.7 290.2 303M183.6 407.6 186.6 406.8 188.9 407.1 190.8 406.2 193.6 405.9 193.4 403.9 195 401.1 197.8 398.8 200 398.1 203.5 396.8 206.6 396.7 208.4 398.5 210.6 398.3 212.4 396.8 215.1 395.2 217.7 394 217.1 391.2 217.7 388.3 220.7 387.3 222.7 388.2 224.8 386.9 227.6 388.4 228.6 389.3 230.5 391.2 233.3 390.7 236.2 392.1 239.1 392.6M239.1 392.6 239.4 395.3 239.5 397.5 239.1 400.3 239 402.3 238.2 405.2 237.6 408.2 239.9 409.8 242.3 411.6 244.7 412.5 242.6 414.9 242.2 416.6 240.1 417.9 239.1 421 237.2 423.4 236.6 426.6 234.8 428.1 234.6 431.3 235.4 434.4 236.2 436.6 235.4 439.8 233.4 442.3 233.8 445.7 233.6 448.6 234.4 451.5 234.8 453.7 233.4 456.2 233.6 457.9 231.9 460.8 233.4 462.7 234.7 465.8 234.8 467.9 237.5 468.4 240 468.9 241.4 468.9 244.7 469.4M244.7 469.4 241.4 469.4 239 470.3 236.2 470.8 234.3 471 231.5 471.7 229.4 473.5 226.3 473.6 224.7 475.8 222.7 479.8 222 482.1 222.3 484.8 222.8 488.1 222.6 490.9 223.4 493.5 222.3 495.3 221.9 498.5 219.7 500.7 219.1 502.9 217.7 506.3 215.9 507.5 212.6 507 210.6 507.7 209.1 509.6 207.8 512.4 206.4 514.8 204.5 515.1 201.8 514.8 198 515.2 196.4 516.3M244.7 469.4 246.8 471.3 247.5 475.1 249 476.5 251.5 477.2 255.5 478.1 257.5 479.3 257.4 476.2 257.6 473.5 259.4 471.5 259 467.9 261.7 467.4 264.5 466.3 266.9 464 268.9 463.7 270.1 464.9 273.1 466.6 274.1 468.7 276 470.8 277.8 472.3 279.4 475.3 281.3 477 281.7 479.3 282.5 481.4 284.7 484.6 286 486.3 288.6 488.1 290.2 490.7 291.6 493.3 294.1 494.2 295.6 495.6 298.7 498.2 300.5 500.4 301.6 502.1 303.5 503.4 305 505.5 308 508.1 309.1 510.5 311.4 512.2 313 513.4 314.9 516 316.9 517 320.1 519.1M257.5 479.3 257.7 482.1 258.3 485.3 259.5 487 258.9 490.2 260.4 493.5 262.6 495.2 265.7 497.3 267.5 499.2 267.1 501.8 268.3 504.6 269 507.6 270.2 509.9 270.3 513.4 271.9 516.7 271.9 518.6 272.4 522.9 273.7 524.2 274.6 527.6 274.8 529.8 274.1 532.5 273.2 535.9M217.7 506.3 219.6 508.2 221.5 511.9 222.6 513.9 224.8 516.3 226.8 517.6 228.5 518.8 230.5 520.5 230.3 523 227.9 524.6 227.3 528.2 226.3 530.5 225 532.6 224.8 535.9M224.8 536 225 538.2 224.3 541.1 227.3 541.3 230.8 542.8 233.4 542.3 235.2 541.3 237.1 538.3M361.9 219.2 364.2 220.9 364.7 223 365.3 225.8 366.7 227.4 368.5 230.6 371.4 232.8 373 235.2 375.2 236.3 376.2 238.3 379 238.6 380.9 241.1 384.5 242.2 387.5 243 390.5 243.4 393 242.5 395.1 242 397.7 242.6 400.8 242.6 402.7 243.9 406 243.8 407.4 244.8 410.3 244.9 412.9 244.7 416 246M483.5 175.5 480.9 177.4 480 179.4 476.8 181.2 475.8 183.8 475.3 185.9 474 188.8 473.2 190.5 472.4 193.9 471.1 196.4 468.4 198.6 466.8 201 465.4 204 463.5 205.5 459.7 205.9 457.8 207.8 455.3 208.5 451.2 208.8 451.2 211.6 451.3 213.5 451.2 216.4 453.8 219.5 455.9 221.1 457 222.7 458.1 225.9 458.8 228.7 455.9 231.6 453.6 230.5 450.2 229.7 447.9 227.8 446.2 227.4 443.6 225.9 442 223.5 438.8 222.1 436.4 223.3 434.1 225.9 432.6 228.5 430.7 230.5 429.3 231.6 428.8 233.9 428.5 237.2 427.4 240.1 425.5 242.5 425.5 244.2 423.6 246M452.1 166 455.9 166.7 457.8 167.9 459.8 167.7 462.9 168.4 465.4 169.8 468.4 171.3 471.2 171.7 473 171.7 475.7 172.1 478.7 170.8 482 173.3 483.5 175.5M483.5 175.5 485.4 174.4 487.9 172.1 490.1 169.8 492.3 168.2 494.1 166.6 497.7 165.1 500.5 164.1 503.6 164.8 507.2 163.2 509.7 164.6 514.1 164.3 516.7 165.1 519.2 165.9 522 164.7 525.3 165.6 527.2 166 529.6 167.3 530.5 169.8 533.8 171.7 536.4 174.2 537.1 175.9 540.1 178.4M540.1 200.2 538.3 201.5 534.9 200.6 531.9 202.1 529.3 200.1 527.7 200 525.3 198.3 521.6 198 518.6 199.3 516.3 202.2 513.9 204 513.7 206.2 513.4 209.7 512 211.6 509.7 213.2 508.7 214.3 507.2 217.3 505.2 219.5 502.5 221.1 500.9 224.9 501.5 227.1 500.6 230.6 499.1 232.6 497.2 233.5 495.8 236.3 493.2 238.1 491.3 240 490.1 242 488.3 243.7 486.3 246M562.4 131.4 561.2 134.2 559.1 136.1 557.5 139.8 560 141.5 560.8 142.5 562.8 145.1 566.3 144.5 569.5 145.5 568.5 148.8 566.6 150.8 566.6 152.7 565.4 154.4 563 157 560.5 158.4 559.6 161.1 560 164.1 559 167 556.7 169.4 555.2 171.7 556.4 174.7 557.2 175.8 559 178.4 561.2 178.6 563.8 177.4 565.9 178 568.5 178.4 570.2 180.7 573.3 183.1 575.5 183.9 578 186 581.1 186 582.8 186.9 584.1 189 586.6 191.9 587.5 193.6 589.6 195.6 592.3 198.3 594.7 199.9 597 200.2M559 178.4 556.6 178.7 553.5 181.6 551.4 182.7 548.2 183.6 546.7 185 546.6 187 544.8 188.8 545 191 542.7 193.8 542.9 196.4 540.9 198.7 540 202.1M540 179.3 541.4 181.2 543.8 182.2 546.7 185M540 224 542.9 226.8 544.4 229.6 543.8 231.5 545.7 234.4 546.6 237.2 548 239.1 548.6 242 549.5 246M740.1 215.4 738.8 217 736 218.4 733.8 219.2 731.9 219.7 730 221.8 727.2 222.1 725 223.4 722.4 225.9 723.9 227.6 725.3 230.6 722.5 232.1 720.5 234.4 719.2 236.5 715.8 238.2 716 240.9 715.5 242.7 715.8 246M789.8 216.5 790.4 220.2 789.8 223.2 788.5 224.9 786.2 227.8 784.7 228.9 782.5 230.3 780.5 231.2 778 232.1 774.6 233.8 773.3 235.5 772.3 239.3 774.5 240.7 777.1 243.1 774.8 244.9 772.3 247.9 770 250.9 767.6 251.7 768.3 254.6 768.5 256.4 771.5 258.6 773.3 260.2 775.3 260.6 778.7 260.6 780.9 262.1 784 263.1 786.3 262.7 788.5 264 791.3 262.8 794.2 262.1 797.3 262.3 800.8 264 802.4 267.2 804 268.7 804.6 271.6 802.9 275 802.7 277.3M778 232.1 776 232.3 772.3 230.3 770.4 230.8 768.6 231.5 765.2 231.9 762.8 233.6 760.2 232.2 758.4 231.9 755.2 231.7 753 231.7 749.6 233.3 747.6 233.6 745.8 232 742.5 231.6 740 229.8M740 245 742.3 246.2 745 246.7 747.6 248.8 750.9 248.4 752.6 246.7 755.2 246.9 757.6 246.3 760.9 244.1 762.7 244.9 766 244.9 768.5 245 770 246.4 772.3 247.9M767.6 251.7 765.2 254.2 762.8 256.4 763.6 259.2 764.1 261.3 764.7 264 765.2 267.4 764.2 269.9 763.8 273.5 759.9 274.1 757.1 275.4 755.6 277 753.8 278.8 751.4 281.1 750.1 284.2 747.6 286.8 747.4 289.8 746 291.8 744.8 295.4M854 234.6 853.4 237.2 853.1 241.2 854.3 244.7 855.9 246.9 855.7 248.7 855.3 251.8 855 254.5 853.4 257 853.1 261.2 849.7 263.7 848.3 265.9 849 269.4 850.2 271.6 853.1 273.7 854 275.4 854.8 278.7 854.4 280.1 855.9 283 859.1 285.7 861.6 286.8 863.6 289.1 864.5 292.5 866 294.4 868.1 296.6 871.1 298.2 873.2 299.9 876.8 301.1 879.2 299 880 297.8 882.5 296.3 881.7 294.4 880.1 292.7 879.7 289.7 880.4 286.4 881.6 284.9 885.2 284.4 887.6 282.9 890.1 283 892 281.1M848.3 265.9 845.8 268.4 842.6 269.7 840.2 270.6 837.2 271.7 835 273.5 831.8 273.4 829.1 274.2 827.4 273.5 824.6 274.7 821.7 276.4 819.8 277.3 817.2 278.9 816 281.1 818.4 284.2 819.8 286.8 821.4 288.2 822.8 290.4 825.5 292.5 826.7 295 829.6 298.4 831.2 300.1 832.1 303.4 833.1 306M816 281.1 813.8 280.7 810.3 279.2 808 278.8 805.6 276.4M855.9 283 853.9 285.6 852.1 288.7 849.7 291.1 849.1 292.6 846.4 294.4 845.5 296.1 845.5 299.5 843.6 302 843.6 306M895.8 296.3 898.1 294.4 901.5 293.5 904.6 293.5 907.2 294.4 908.6 296.1 910.8 298.3 912.9 300.1 916.7 300.7 918.6 302 919.8 299.4 922.4 296.3 924 294 927 293.4 928.1 291.6 930.5 290.6 933.8 289.7 937.1 288.3 940.1 288.7M894 296.9 896.2 295.7 898.7 294.1 901.5 293.9 904.4 293.1 906 295.8 909 297.1 910.1 298.8 913.4 299.5 915.8 301.7 917.7 300.3 920.6 298.8 920.3 295.4 921.5 293.1 922.8 290.5 925.3 289.3 927.3 289.9 930.5 288.1 932.9 288.4 936 288.9 938.6 289.3 939.7 291.6 942.4 294.1 945 294.2 948.1 295 951.4 295.4 952.9 296.9 956.3 295.2 958.6 293.1 962.2 291.1 965.2 291.2 968 292 970.8 292.3 973.8 292.2M855 288.4 857.1 287.5 860.7 287.4 862.6 289.3 864.5 293.1 866.9 295.1 868.5 297.6 870.2 298.8 872.6 300 875.9 300.7 878.4 300.2 881.1 299.9 883.5 298.8 881.6 295.9 880.7 293.1 881.9 290.9 881.6 287.4 883.9 287.4 887.3 285.5 889.4 285.9 892.1 287.4M881.6 311.2 884.8 312.4 886.3 312.8 889.2 313.1 890.4 315.7 893 317.8 894.1 321.2 894 323.5 895.3 326.7 896.8 329.2 895.7 332.4 895.4 334.8 894.9 336.8 896.4 339.9 897.8 341.6 901.5 340.9 904.4 340.6 906.9 342.4 910.1 344.4 909.6 347.6 908.2 350.1 910.5 352.2 910.8 353 912 356M910.1 344.4 912 341.5 913.9 340.6 915.2 338.9 917.7 336.8 920.3 336.5 924.2 338.5 927.2 338.7 930.1 338.2 931.9 336.5 934.8 336.2 936.7 335.9M869.3 323.5 872.5 322.8 874 321.6 876.8 322.1 877.8 323.5 875.8 325.7 875.9 327.3 874.2 328.4 871.2 328.3 869.9 326.9 869.3 323.5M855 338.7 858.1 339 860.6 338.3 862.6 337.8 864.1 339.6 866.4 341.6 866.3 344.5 864.5 348.2 865.1 350.6 867.3 353.1 868.3 356M881.6 340.6 883.8 339 887.3 338.7 890.1 337.6 892 337.3 894.9 336.8M391.3 246 389.2 248 387.8 250.6 387.8 253.4 385.6 255.5 383.5 258.3 381.8 260.7 380.1 262.2 378 265 376.3 266.9 375.2 270.7 377.3 272.8 380.9 274.5 383 274.4 385.8 277.2 387.5 277.4 387.4 280.5 385.6 283.1 387.3 285.6 388.9 287 390.4 289.8 391.3 291.6 389.2 294.3 388.1 295.3 385.3 297 383.7 299.2 382.1 301.8 380.1 303.9 377.4 305 376.1 306.8 373.6 308.4 371.3 310.6 368.5 312.5M387.5 277.4 390 277.8 393.1 277.5 397 276.4 399.4 277 401.7 279.6 404.6 280.2 407.1 282.4 408.7 283.6 410.3 285.9 413.9 286.3 416.8 287 419.8 286.9 422.2 287.8 425.7 289.1 427.4 290.7 430.1 292.7 432.7 293.3 435 295.4 435.9 298 438.1 299.5 438.8 302.1 440.9 302.8 443.5 301.5 446.4 302.1 449.6 301.3 450.7 299.8 454 299.2M454 299.2 456.1 298.2 458.5 298.1 461.6 297.3 463.8 298.1 466.6 300.8 469.2 301.1 473.1 302.3 474.9 304 478.2 303.7 481.6 304.9 483.6 306.9 485.4 306.8 486.5 304.6 486.3 301.7 486.7 299.9 488.2 297.3 488.4 295.5 489.4 291.7 490.1 289.7 490.8 287.2 491 284.7 491.1 282.1 490.1 279.5 490.2 276.7 490.1 274.5 488.9 271.3 486.3 268.8 485.7 265.8 485 264.2 484.4 261.2 485.2 258.1 485.6 255.9 485.4 253.6 487.6 251.9 488.7 250 490.1 247.9 492 246M491.1 282.1 494.1 281.1 496.5 280.2 499.6 280.2 502.4 281.1 504.2 281 507.2 281.2 510 281.5 512.9 282.1 515.7 280.5 518.6 278.3 521.9 278.2 523.9 277.1 526.2 277.4 528.4 278.5 532 278.8 533.8 279.3 536.9 278 540.1 278.3M512.9 282.1 516.4 282.6 518.6 284 520.5 285.7 523.5 285.3 525.3 286.9 527.8 288.7 529.9 290.2 531.9 291.6 534.6 292.5 538.1 292.2 540.1 292.6M443.6 246 446.3 246.6 448.5 247.9 450.2 248.9 453.2 250.5 453.6 251.4 455.9 253.6 458.5 254.4 461.2 255.3 463.5 257.4 466.4 259.4 468.4 260.8 471.1 263.1 472.3 265.9 471.6 268.4 473 270.7 476.1 271 477.6 271.7 480.6 272.6 483.5 269.9 486.3 268.8M454 299.2 455.1 302.5 456.9 304.9 457.9 307.2 459.5 309.9 459.7 311.6 459.5 315.2 458.8 318.2 455.6 320 454 322 453.7 324.5 453.1 327.7 453.7 329.7 454.3 332.7 455.9 335.3 455 337.4 455.6 340 455 342.9 452.7 343.8 449.3 344.8M485.4 306.8 487.9 308.4 488.6 310 490.1 312.5 491.1 314.9 491.5 317.8 492 320.1 492.9 322.6 494.1 326 495.8 327.7 498.7 330.2 499.3 333.6 501.5 335.3 504.8 336.2 505.7 337.7 509.1 339.1 512.2 342.1 512.9 344.8 513.5 347.3 514.8 350.5 514.4 352.8 512.5 356.2 511 358.1 510.5 360.2 508.3 363.4 508.2 365.7M509.1 339.1 512.2 336.3 514.8 335.3 517.8 334.4 520.6 333.5 522.4 332.5 525.7 331 527.4 328.7 530 327.7 532.9 326.4 535.6 325 537.3 324.4 540.1 323M390.4 331.5 390.1 333.6 388.7 335.9 387.5 339.1 386.6 341.1 385 344.2 383.7 346.7 381 348.9 379.4 351.5 377.1 352.4 379.1 355.3 380.9 358.1 384.7 359.5 387.5 360 389.7 358.9 392.3 358.1 393.4 360.2 396.7 362.2 398.9 363.8 401.7 364.4 403.8 367 405.6 367.6 404.6 371 403.7 372.6 402.7 375.2 401.4 376.8 400.4 380.3 399.9 382.8 400.5 386.5 400.7 389.1 400.8 392.3 401.9 395.2 403.1 396.9 403.8 399.6 404.6 402M436.9 384.7 434.7 384.1 432 384.1 429.3 384.7 426.8 386.4 423.6 388.5 422 391.7 420.6 393.9 419.8 396.1 419.2 398.9 417.9 402M355.2 314.4 354.2 317.2 352.2 319.8 351.4 322 351.5 325.7 349.4 328.3 349.5 331.5 348.9 334 347.7 336.3 344.5 338.4 343.8 341 341.4 344.1 340 346.7M547.7 240 548 242.9 549.6 244.9 549.1 247.6 549 249.9 547.4 252.3 546.5 254.8 547.2 256.4 549 258.5 550.9 260.5 553.3 262.2 554.4 264.2 557 266.5 558.2 268.3 558.8 272 557.9 275.1 558.2 277 556.4 280.7 553.8 281 550.8 281.9 547.3 280.6 544.6 280.7 542 279.8 538.5 278.8 535.4 278.3 532.3 277 529.9 276.7 527.4 275.7 524.2 276 522.5 277.4 520 277M546.5 254.8 547.8 253.6 550.8 253.6 553.6 253.1 555.7 251.7 558.6 252.7 561.9 252.3 564.2 251.6 567.6 252.9 569.3 252.9 570.5 255.3 573 256.6 574.8 259.7 577 260 580.4 260.9 582.3 262.2 585.3 263.4M520 286.2 523.7 287.4 525.6 287.5 528.6 289.3 531.3 290.4 532.3 292.4 536.3 292.5 538.5 293.6 542 292.2 544.6 292.4 547.1 292.4 550.8 294.2 552.4 295.1 555.1 295.5 558.2 297.9 560 301.6 559.3 303.5 559.4 306.5 559.1 310.3 557.6 312.7 554.8 315 553.3 317 551.2 317.8 548.3 320.1 545.4 321.3 543.4 322.6 540.8 324.3 538.9 325.8 537.3 326.3 535.7 326.8 533.4 329.6 531.1 330 528.5 330.4 524.9 332.4 522.2 333.4 520 333.6M555.1 295.5 558.6 295.6 560.7 296.7 562.4 296.9 565.6 297.3 567.7 298.7 569.3 300.4 569.1 303.2 568.7 305.3 567.4 309 569.8 310.8 570.5 312.7 572.7 313.9 574.2 315.2 575.5 318.9 577.9 321.3M622 254.8 621 258.5 622.6 260.4 624.7 262.2 627.7 263.4 629.7 264.6 632.2 266.8 634.6 267.1 636.2 266.1 638.3 264.6 642 265.9 645.5 266.3 646.9 267.7 650 269M611.8 296.1 615.2 294.6 617.3 293 619.9 291.7 622.3 291.1 626 291.8 626.8 294.6 628.4 295.5 629.3 297.1 630.9 299.1 629.7 302.8 631.4 305.1 632.1 306.5 634.3 307.7 635.8 309 638.6 308.4 640.1 307.8 641.8 306.6 643.2 304.1 644.5 300.4 645.5 298.6 648.2 297.9 650 294.2M593.3 307.2 594.7 310 595.8 312.7 598.9 315.2 599.9 318.5 601.3 320.1 602.5 323.7 601.9 326.3 602.5 329.5 603.8 331.2 605.9 332.9 608.7 334.9 611.3 336.9 613.6 337.3 616.7 338.4 618.6 338.6 621 341M628.4 323.8 627.8 325.7 626 328.7 624.4 331.6 623.5 333.6 623 336.6 621.2 337.9 621 341M574.2 326.3 575.4 329.1 576.7 331.2 577 333.2 577.3 336.1 577 339.1 576.1 341M630 265.1 631.9 266.4 634.3 266.8 636.4 264.4 638.5 263.8 640 265.1 642.8 265.9 645.5 267.4 647.1 268.1 649.9 269.4 653 269.4 655.6 271.9 659 273.6 661.7 272.9 664.1 272.3 666 271.3 669.2 271.1 671.3 268.7 673.5 267.7 673.7 265.4 674.4 263.4 675.5 261.6 676.9 260 676.6 258.5 677.8 255.7 679.9 255 681.2 252.7 683.7 251.9M659 273.6 659 276.2 657.7 277.9 659 281.3 658.2 283.2 658.2 286.4 656.1 287.8 653.9 289.8 652.4 290.7 649.6 292.4M720 233.5 717.9 236 716.2 236.1 715.3 239.5 717 242.1M720 248.9 717 251.4 716.2 254.9 713.7 256.1 711.9 258.3 710 259.2 707.6 260.8M698.2 280.5 695.8 280 693.1 280.5 689.8 281.2 688 283 684.5 284.7 682.9 286.4 682.4 287.8 680.3 289.8 681.2 291.8 681.2 295M696.7 280.7 695.2 281.8 691.8 281.9 688.7 284 686.8 285.6 683.7 287.3 681.9 288.1 680.8 289.7 680.7 293 678.8 294.6 677 296.7 673.9 298.1 672 297.9 670.4 300.1 668.3 301.6 665.7 303.1 664.6 304.1 662.7 304.9 660.9 306.5 658.4 307.1 654.8 307.8 652.4 310.6 652.3 312.7 650.7 313.6 647.4 313.9 645.3 314.7 641.7 314.2 640 315.2M680.7 293 681 295 683.1 297.9 683.7 301.5 685 304.1 685.9 308 686.8 310.2 688.6 312.4 689.3 316.4 692.2 318.4 694.2 318.9 697.1 318.4 700.4 317 703.9 316.8 706.5 316.4 709.4 316.2 712.7 317.6 715.1 316.7 718.9 316.4 721.3 315.2M700.4 317 701 318.7 702.2 320.8 702.8 323.8 702.8 325.5 703.2 328.3 704.1 331.2 706.3 334.6 706.5 337.3 705.3 341M658.5 309 660.4 312.6 660.9 315.2 661.9 318.1 663.9 318.9 664.6 321.3 668.1 323 669.6 325 672.6 323.5 674.5 321.3 677.3 320.7 680.7 320.1 682.3 322.2 684.2 323.2 686.8 325 689.3 326.3 690.1 324.2 692.9 321.5 694.2 318.9M704.1 259.7 707.5 257.7 710.2 257.3 711.9 255.8 713.7 254.5 716.4 253.6 718.6 251.7 720.1 248.6 721.5 246.3 723.8 244.9 726.3 242.5 729.5 244.5 731.2 246.2 734.2 244.5 736.5 243.6 738.6 243.7 740.5 244.3 743.2 244.4 746 244.9 747.8 243 750.9 241.2 754.6 240M738.6 273.3 740.4 276.4 741 278.2 744.8 279.1 747.2 278.2 748.4 276.5 750.9 275.7 753.2 274.9 755.8 272 758 272.1 760.1 272.2 763.2 270.8 765.7 270.2 768.2 268.3 770 264.6M747.2 294.8 747 292.7 748.4 289.3 750.2 286.4 750.9 283.1 751.6 280.5 753.4 278.2M741 302.8 741.4 304.8 743 306.5 744.7 309 747.9 310.7 749.7 312.7 750.4 315.5 752.1 318.9 754.1 320.3 755.8 323.8 757.5 325.2 759.5 326.3M575.5 330 576.2 331.9 576.2 335.3 576.7 337.4 576.6 340.1 577.9 341.5 577.9 344.8 578.3 347.3 578.9 349.2 580.4 352.2 580.4 355.1 581.6 358.3 578.9 360.1 577.9 362 576.6 363.3 574.2 365.7 574.8 368.5 576.7 370.7 575.1 371.8 574.2 374.4 571.2 375 569.3 374.4 567.2 373.6 564.4 371.9 561.6 370.1 559.4 368.2 556 367.8 553.3 365.7M532.3 378.1 535.4 378.6 538.5 379.3 541.8 378.3 544.6 378.7 548.3 379.6 550.8 379.3 554.3 379.7 557 380.5 559.9 381.1 561.9 381.8 563.4 384.7 563.1 386.7 563 389.4 564.4 391.6 566.9 394.1 569.3 396.5 571.7 395.7 575.5 394.1 578.4 393.8 581.6 391.6 583.7 392 586.5 394.1 588.4 396.8 589 399M533.6 395.3 536.1 394.9 539.7 396.5 542.5 395.8 545.9 394.1 549.4 394.6 552 396.5 554.5 397.9 557 399 558.7 400.7 561.9 402.7 565.5 402.7 568.1 401.5 569.7 400.2 573 400.2 575.5 401.4 577.9 402.7 578.8 405.1 579.1 408.9M581.6 358.3 583.6 359.1 586.5 360.8 590.2 361.7 592.7 362 595.1 360.8 597.6 360.8 600.3 360.5 603.8 359 606.3 362 607.3 365.4 608.7 367 611 366.2 613.6 365.7M574.2 365.7 574.9 368.1 577.2 370.4 577.9 371.9 579.2 373.9 581.6 375.6 584.1 376.9 586.5 379.3M613.6 365.7 616.8 367.9 618.6 369.4 620.4 372.8 622.3 374.4 620.3 377.1 619.8 379.3 618.5 381.7 616.1 383 618.5 386.5 621 387.9 622.9 389.6 624 392 626 394.1 626.8 395.9 628.4 399 626 401 623.5 402.7 623.3 404.7 620.1 406.8 619.8 408.9 617.2 410.4 616.1 412.6M624.7 360.8 625.8 363.7 626.2 364.6 628.4 367 629.8 369.3 632.1 371.9 633.5 374.2 635.8 376.8 638.9 378.4 640.8 379.3 642.8 380.6 645.7 381.8 647.8 380.6 650 379.3M628.4 399 630.9 398.6 633.4 396.5 635.1 393.6 637.1 391.6 637.1 388.3 638.3 385.5 638.2 382.4 636.2 379.9 635.8 376.8M579.1 408.9 580.7 407.4 582.1 404.9 584.7 402.8 586.4 401 589 399 591.9 399.6 593.9 401.5 593.3 404.2 593.8 406.7 593.9 408.9M589 399 590 396.6 591.5 395.3 593.1 393.1 594.9 391.3 596.4 389.1 597.1 386.9 598.9 384.2 601.3 383.3 603.9 383.2 606.3 383 608.5 382.1 610.8 383.7 613.6 383.1 616.1 383M602.6 330 605.3 332.9 606.3 334.9 609.3 336 610.8 336.5 613.6 338.6 615.8 340 618.6 339.5 621 341.1 622.3 337.6 623.5 334.9 623.9 332.5 626 330M621 341.1 618.9 344.3 618.6 347.3 616.7 349.4 613.6 350.9 612.5 353.1 611.2 354.6M621 341.1 624 342.3 625.8 343.3 628.4 343.6 632 343.3 634.6 342.3 637.8 341.6 640.8 339.9 644.1 340.9 646.2 341.4 650 341.1M545.9 418.7 548.1 417.9 550.8 415 554.2 414.2 557 412.6 560.8 413.3 563.1 413.8 566 415.1 569.3 416.3 572.4 416.8 574.2 416.3M702.8 330 703.8 333 705.3 336.2 706.6 339.2 707.8 342.3 710.5 343 713.9 342.9M699.1 380.5 701.8 381.6 704.1 383 706.9 383.3 710.2 384.2 713.9 383 717.2 381.2 718.9 379.3 721.3 377.5 723.8 375.6 725.6 373.5 728.7 371.9 729.4 369.4 730.9 368.4 732.4 365.7 734.1 364.5 734.9 362 737.3 361.4M691.8 402.7 695.6 401.8 697.9 400.2 700.7 400.5 704.1 399 707.2 400.4 709 401.5 709.5 399.8 712.3 398.3 713.9 396.5 717.2 395 718.9 392.8 722.8 392.9 725 392.8 725.6 395.9 726.3 399 728.5 399.7 731.4 399.6 733.6 400.2 736.8 399.4 738.6 399.7 741 399 743.3 400.8 744.7 403.9 743.6 407.2 742.3 410.1 741.4 413.8 741 416.3 737.7 416.7 734.9 418.7M640 384.2 642.7 385 644.4 386.6 647.4 386.7 650.4 387.2 652.1 386.9 654.8 387.9 656.4 390.7 658.5 391.6 660 392.8 662.4 395.6 664.6 396.5 667.8 397.4 669.3 397.6 672 397.2M664.6 416.3 666.8 417.2 668.7 419.6 670.8 421.2 673.3 422.9 675.7 426.1M699.1 423.6 700 421 700.4 418.7 702.6 416.1 704.1 415M747.2 363.3 749.6 363 753.4 362 757 363.3 759.5 364.5 762 366.1 763.9 366.9 765.7 369.4 767.6 371.8 770 373.1M738.6 333.7 741.1 334.5 744.7 334.9 747.9 336.2 750.9 337.4 754.4 338.4 757.1 339.9 761 339.1 763.2 338.6 765.3 339.9 767.6 340.2 770 342.3M725 392.8 726.8 391.2 728.7 387.9 730.4 386.6 734.2 386.2 736.1 385.5 739.1 385.2 740.1 384 743.5 384.2 745.6 383.1 747.7 381.4 749.7 379.3M798 295.7 799.1 298.4 800.1 302.6 799.9 305.2 797.3 304.2 794.2 303.3 791.9 304 788.7 305.5 786.6 305.2 787.3 308.5 788 310.4 788.5 312.8 787.4 315.3 784.7 318.5 787.2 321.4 790.5 322.4 792.3 324.2 793.6 326.3 796.1 328 792.9 327 790.3 326.6 788.5 326.1 787.1 328.2 784.8 329.3 782.8 331.8 784.3 335.1 784.7 337.5 781.4 338.6 779 339.4 777.8 341.2 775.8 343 772.9 344.3 771.4 347M760 322.3 762.5 322.4 766.1 322.4 769.5 322.3 771.9 321.6 776.2 320.3 779 320.4 781.4 319.3 784.7 318.5M837.9 320.4 835.9 322 833.7 323 830.3 324.2 828.4 325.7 826.7 328.7 824.6 329.9 822.7 331.4 819.9 331 817 332.8 814 334 812.3 334 809.4 335.6 807.4 338 805.2 340.1 803.7 341.3 805 344.4 804.8 345.9 805.6 348.9 804.9 351.2 803.7 354.6 805.1 356.5 807.1 359 809.4 360.3 811.7 361.2 813.9 362.8 817 364.1 818.8 364.8 821.8 364.1M784.7 354.6 786.6 357 789.1 359.4 790.7 361.8 792.3 364.1 794.5 365.9 796.9 367.3 799.9 369.8 802.6 371.3 804.1 372.9 805.6 374.6M784.7 337.5 787.6 338.2 789.9 339.8 792.3 341.3 794.4 340.9 797.5 341 801.2 340.6 803.7 341.3M849.3 335.6 851.9 336.4 854.5 339 856.9 339.4 860 340.1 861.6 338.7 864.5 339.4 866 342 865.4 344.3 866.4 347 867.9 349.7 868.4 351.8 870.2 354.6 868 355.9 866.6 357.9 864.5 361.3 862.6 362.2 861.1 364.8 861.8 366.5 860.5 369.1 858.8 371.7 857.9 374.2 857.2 376.9 855 379.3 853.2 381.6 851.2 385M870.2 354.6 872.5 357.1 874.7 358.5 877.8 360.3 880.7 360.9 882.1 361.1 885.4 362.2 887.9 364.9 890.1 365.2 893 367.9M908.2 337.5 909.7 340.6 912.4 341.7 913.9 345.1 913.8 348.3 913 351 912 352.7 911.1 354.4 910.4 357.5 910.1 360.3 909.7 363.7 910.1 366M815.1 373.6 815.1 375.8 813.4 379 812.9 382.3 813.2 385 812.2 388.3 812 390.6 812.5 394 811.3 396.4 813.3 398.2 815.1 400.2 817.2 400.2 819.3 399 822.8 397.5 824.6 396.4 827.5 396 830.5 397.2 832.7 396.5 836 396.4 838.8 395.4 841.7 395.8 844.7 395.4 848.4 395.5M848.4 395.5 846.3 397.6 845.7 399.7 843.4 401.8 841.7 404 839.3 405.9 837.8 409.8 836 411.6 835.1 414.4 833.1 417 831.4 419.1 830.3 421.1 829.5 424 827.8 425.7 826.1 428.5 825.6 430.6M780.9 386.9 781 389.9 780 392.8 779 396.4 781.5 397 784.3 399 785.6 400.3 788.5 402.1 791.7 402.4 794.3 403 798 404 799.6 403.2 802.8 404 802.3 407.7 804.2 410.6 803.7 413.5M815.1 400.2 815.6 403.2 818.3 404.9 818.9 407.8 820.5 409.2 822.7 411.6 823.6 412.9 825.6 415.4 822.2 413.7 818.9 413.5M574.2 420 577.2 421.8 578.6 422.5 581.6 423.7 583.6 423.9 587.2 424.7 589 426.2 590.9 427.8 593.9 428.6 595.8 431.1 596.4 433.6 595.1 437.2 595.2 439.7 596.5 443.2 596.4 445.9 597.3 449 598.9 450.8M582.8 445.9 585.4 445.8 589 446.5 591.8 447.1 595.2 446.5M571.8 463.1 573.2 464.9 574.2 466.8 573 470.5 571.8 473 570.2 474.8 566.8 476.7 564.1 477.9 561.9 479.1 559.6 481.5 557.6 484.3 557 486.5 555.8 489.6 554.5 492.7 553.3 494.7 550.8 496.4 548.4 495.8 544.6 495.2 542.2 494.3 538.5 493.9 535.3 494 533.6 493.9M598.9 460.7 599.6 462.4 599 465.1 598.9 468.1 597.8 470.2 597 474.2 594.6 476.1 593.9 477.9 591.4 478 589 479.1 586.3 480 584.2 479.9 581.6 480.4 579.3 481.3 576.7 481.6 574.2 482.9 573 484.1 572.3 486 573 489 573.9 491.3 574.2 493.9 576.4 495.7 579.1 497.6 581.4 496.1 585.3 495.2 588.4 495.5 591.5 496.4 593.8 493.7 593.9 491.5 595.4 488.4 595.2 486.5 595.3 483.6 593.9 481.6 593.9 477.9M595.2 486.5 597.2 486.1 600.1 484.1 603.3 485.7 606.3 486.5M561.9 479.1 564.6 480.1 566.8 481.6 569.6 483.6 573 484.1M550.8 496.4 552.4 497.7 555.6 499 557 500.1 558.7 498.8 561.9 498.9M573 500.1 572.1 503.1 571.8 506.3 574.4 508.5 575.5 511.2 578.5 511.4 581.3 511.9 584.1 512.4 586.9 513.7 590.2 514.9 591.4 517.3 591.5 521M642 455.7 644.3 457 646.9 457 650 459.4M699.1 420 700.4 423.7 699.4 426.4 697.9 427.4 697.4 429.4 695.5 432.3 694.4 434.4 693 437.3 691.7 439.8 690.9 442.5 689.3 444.6M690.5 450.8 691.8 453.1 691.8 455.7 690.2 457.5 688.1 460.7 686.3 462.3 683.1 464.4 681 467.4 679.4 469.3 677.2 471.3 675.7 473 673.5 474.1 670.8 476.7 668.6 479.1 668.3 481.6M640 455.7 643.8 455.8 646.2 457 648.7 457.3 652.3 458.2 653.6 460.7 656 461.9 656.6 464.6 658.5 468.1 657.6 470.3 657.3 474.2 658.8 476.2 659.7 479.1 661.6 481.4 662.1 483.5 662.8 486.5M686.8 486.5 689.3 485.7 691.8 484.1 695.2 484.1 697.9 482.8 701.2 482.8 704.1 481.6 706.3 479.6 706.5 477.9 707.8 477.9M663.4 491.5 666.1 490.2 668.3 490.2 671.3 490.3 673.3 490.9 675.9 493.7 678.2 495.2 680.8 495.7 683.1 497.6 687 497.3 689.3 496.4 693 497.6M678.2 495.2 677.4 497.4 677 501.3 677.7 503.3 679.4 506.3 677.9 509.2 677 511.2 676.9 515.1 675.7 517.3 673.3 518.6 670.8 517.3M704.6 524.3 706.7 524 709.1 522.3 712 522.7 714.1 521.4 716 520 719.8 519.5 723.1 520.4 725.2 521.6 727.4 523.3 729.8 526.2 731.2 529 733.1 528.8 736.3 529.7 738.8 529 742.3 527.1 744.5 525.2 745.6 523.8 745.5 520.5M714.1 521.4 713.9 523.4 712.7 527.1 712.2 529 713.2 531.5 716 534.7 718.8 532.7 721 532.5 723.6 530.9 725.6 530.4 728.6 530.3 731.2 529M701.8 544.2 704.7 545.2 707.3 544.1 710.3 545.2 713.2 543.8 714.4 544.1 717 542.5 719.8 542.3 723.1 541.6 725.9 540.9 729.3 540.4 731.8 537.7 735 536.6 736 535.7 738.8 534.7 737.7 538.3 736.9 540.4 736.6 542.8 734.3 545 733.1 548 732.9 550.6 732.2 553.3 731.2 555.6 730 559.2 729.3 561.3 727.2 561.2 723.8 563.3 721.7 564.2 718.9 562.8 716.5 562.6 714.1 562.3 712 563.9 708.2 565.3 706.5 567M738.8 529 738.7 532 740.5 534.4 740.7 536.6 739.6 539 739.3 541.4 738.8 544.2 737.8 546.4 737.7 549 735.9 552.2 735 553.7 735.6 556 736.6 558.2 736.9 561.3M736.9 574.6 737.6 576.5 739.2 580.1 738.8 582.2 737 585 735 587.9 734.3 590.1 734.5 592.4 733.1 595.5 732.9 597.8 731.4 600.6 731.2 603.1 732.3 606.2 735 608.8 737.2 611.1 740 611.1 742.6 613.6 741.3 617.6 740.7 620.2 740.2 623.2 739.4 625.9 738.8 627.8 739.1 630.3 737.9 632.6M710.3 570.8 713.2 569.7 716 567 717.7 566.1 720.5 565.2 723.6 565.1 726.3 563.8 729.3 561.3M682.8 538.5 683.7 540.5 684.7 544.2 685.6 546.1 686.1 548.3 687.4 552 688.5 553.7 687.6 555.5 685.8 559.2 685.6 561.3 687.3 562.6 689.4 565.1 689 568.2 687.5 570.8 689.9 570.3 691.3 568.9 693.9 569.1 697.4 567.2 699.9 567M685.6 561.3 683.1 562.3 680.6 563.4 678 565.1 675.4 565.3 672.5 564.6 670.4 563.2 667.7 565.3 664.7 567 666.2 568.7 668.5 570.8 669.2 572.4 669.7 575.9 670.3 577.6 672.3 580.3 671.4 583.1 671.5 584.8 670.4 587.9 672.3 588.9 673.4 591.6 676.1 593.6 679.9 593.6M687.5 570.8 686.3 573.1 686.1 576 685.6 578.4 685.9 581.2 686 583.2 686.6 586 684.9 587.3 682.7 589.9 681.4 591.1 679.9 593.6 679.4 596.9 680 598.3 679.9 601.2M664.7 567 663.1 563.8 661.9 563 660.9 559.4 662.2 556.6 663.8 554.8 664.7 551.8 667.2 551.5 669.4 550 672.3 548 672 545.9 672.8 542.7 674.2 540.4 675.9 538 678 534.7 679.7 537.1 682.8 538.5M657.1 587.9 659.1 589 661.1 592.5 662.8 593.6 663.9 595.9 663.5 599.6 664.7 603.1 663.2 605.4 663.3 607.9 662.8 610.7 660.9 613.6M640 525.2 642.5 527.5 645.7 529 648.3 531.9 650.3 534 651.4 536.6 654.6 538 657.1 540.6 659 542.3 662.2 542.5 664.7 544.2 667.9 545.6 669.6 547.5 672.3 548M640 567 642.2 567.1 645.1 567.8 647.6 568.9 649.5 567.9 653 568 655.2 567 657.3 563.6 658.7 561.5 660.9 559.4M536.5 537.7 536.8 533.6 538.1 530.9 540.3 529.6 542.9 526.8 544.2 524.8 546.3 523.1 549.8 521.4 551.8 520.2 554.9 518 557.9 517.2 560.9 516.6 563.9 515.7 567 517.1 569.8 517.4 571.6 518.7 574.5 517.9 576.3 518.4 579.2 517.2 582.8 516.5 583.4 515.1 586.8 514.1 590.2 515.5 591.4 517.2 595.3 517.3 597.4 518.7 600.9 518.1 603 518 606.6 518.7 608.1 521.7M571.6 518.7 570.7 521 570 524.8 572.1 528.3 573.1 530.9 576.6 533 579.2 533.9 580.3 535.7 583.7 537M591.4 517.2 592.5 520.1 591.9 521.6 592.9 524.8 592.2 527.4 591.4 530.9 590.9 533.7 589.8 537.7M500 549.2 503.5 549 505.8 550 507.6 550.7 509 553.6 509.1 556.8 509.3 559.8 508.6 563.3 507.6 565.9 508.8 568.7 508.5 570.3 509.1 573.5 509.1 576.5 507.9 579.3 508.4 582.6 510.3 586.2 510.7 588.7 512.6 591 514.5 591.1 516.7 593.3 518.2 594.8 519.8 597.9 522.7 599.6 524.4 602.4 527.5 600.7 530.5 599.4 531 597.7 532.7 594.8 535.1 596 537.3 596.4 538.5 598.5 540 601.3 541.1 602.4 544.2 604M538.1 558.3 537.1 561.1 537.8 563.1 537.3 565.9 537.9 569.7 538.1 572 537.8 574.4 537.3 576.5 536.5 579.6 534.2 580.7 532 584.2 532.7 588 533.5 590.3 535.2 592.3 536 593.9 537.3 596.4M500 611.6 501.6 612.8 502.9 616.4 504.6 617.7 506.6 616.7 508.7 614.1 510.7 611.6 512.9 613.4 515.2 614.6 517.5 617.1 519.2 618.5 519.8 620.7 520.2 624 521.9 627.7 522.8 630M524.4 602.4 525.4 605.1 524.9 607.4 525.9 610.1 528.7 611.2 532.2 611.7 534.7 612.6 538.1 613.1 540.7 612.8 543.3 611.6 545.7 611.6 549 612.5 551.1 613.7 553.3 614.6 556.3 616.2 559.4 617.7M541.1 602.4 541 604.6 538.8 607.6 538.8 610.5 538.1 613.1M603.5 533.9 604.8 536.4 608.4 539 609.6 541.5 612.8 539.8 615.7 538.5 619.6 537.2 621.8 535.5 624 534.2 626.4 530.9 629.2 533.4 630.9 535.5 631.2 537.7 633.4 539.9 634 543.1 634 546.1 632.5 549.2 633.6 551.5 635.5 553M634 543.1 634.7 541.2 636.1 537.2 637 535.5 638.8 533.2 640.3 529.9 641.6 527.8 642.8 526 643.8 523.1 644.6 520.2 643.8 518.1 642.5 515.5 641.6 512.6 642.1 510.7 643.1 507.2 644.6 505M635.5 555.2 637.3 554 640.3 554.7 643.1 553.7 644.6 552.2 647 551.6 649.2 549.2 652.4 548.2 653.9 546.7 656.8 546.1 658.9 544.8 660 543.1M622.6 570.5 625.3 570.9 629.4 572 631.5 570.5 634 568.9 636.1 567.4 638.1 564.6 640.1 562.9 641.9 561.4 643 558.6 644.6 556.8M637 585.7 638.8 587 642.2 588.1 644.6 588 647.4 587.5 649 587.2 652.3 587.2 654.1 585.6 655.3 583.2 656.8 581.1 659.2 579.8 660 578.1M457.6 433.1 454.5 434.3 451.6 433.8 448.6 435 445.5 436.1 442.9 437.9 440.9 440.7 438.2 443.4 436.3 445.2 434.1 447.6 431.8 449.8 429.9 452.3 428.2 454 427.2 455.9 425.6 457.8 422.6 460.5 421.1 463.5 420.3 466.6 421.2 470.2 422.6 472.6 425.1 474.1 427.2 477.2 429.3 479.6 429.5 481.8M469.8 410.2 472.3 409.8 475.9 411 479.2 410.7 482 409.5 484.7 410.2 485.8 412.3 488.1 413.3 491.2 415.2 492.7 417.8 494 420.9 495 423.9 497.9 425.7 500.3 425.5 502.4 424.8 504.8 422.4 506.1 419.9 507.9 417.8 507.7 414.3 508.4 413 509.4 410.2 510 407.9 512.1 405.3 512.5 402.6 513 400.2 512.6 397.7 514 395M462.2 454.4 466 453.2 468.3 451.3 471.2 450.9 474.4 449 476.6 448.2 480.5 448.3 482.4 446.9 484.5 445.2 486.6 443.7 489.4 444.5 492.7 445.2 495.1 446.4 498.8 446.8 501.3 448.1 503.7 446.9 506.4 448.3 508.6 446.9 510.9 445.2 512.4 443.3 514 440.7M463.7 462 466.8 461.6 469.2 461.6 471.4 462 473.2 464.1 476 465.4 477.4 466.6 481.1 468.3 483.5 469.6 485.9 470.4 486.8 472.4 489.6 474.2 490.2 476.5 492.2 478.9 494.2 481.8 496.8 482.8 499.2 482.8 501.8 482.5 505.2 481.6 507.9 480.3M507.9 417.8 508.7 419.8 508.2 422.5 509.4 425.5 509.1 427.7 511 429.8 510.9 433.1 509.8 436.3 510 438.5 509.4 440.7 511.6 444.2 512.5 446.8 512.2 449.3 513.3 453.2 512.5 455.9 513.7 459.4 513.2 462 513.3 464.6 512.5 468.1M460.7 475.7 461.2 478.5 462.2 481.8 464.7 483.1 468.3 484.8 470.9 486.2 474.4 486.4 475.9 488.7 479 490.9 479.5 494.1 480.5 495.5 479.5 497.9 477.4 501.6 476.5 504.4 475.8 506.9 474.4 509.2 475.8 512 475.9 515.3 476.2 517.7 477.4 520M380 501.6 382.1 501.1 384.7 500.3 387.6 498.5 390.8 497.1 392.2 496.1 393.7 494 396.7 495 399.8 497 402.7 498.2 405.9 498.5 406.4 500.5 409.4 503 410.5 504.6 413.1 504.3 414.8 503 418.1 503.1 421 500.9 423.1 500.8 425.7 498.5 428 498.1 431 495.5M380 404.1 383.7 405.7 386.1 406.4 389.2 404.9 390.6 404.9 393.7 403.4 396.8 404.2 399.8 405.7 402.5 404.1 405.1 402.9 407.4 402.6 409.3 402.6 411.8 403.6 415 404.1 416.9 401.7 418.2 400.2 419.6 398 421.1 395M402.8 395 405.6 395.8 407.4 398 408.1 400.5 407.4 402.6M380 422.4 382.2 425.3 383 428.5 383.8 431.3 383.7 434.1 384.6 437.6 385.8 441.3 386 444.3 386.1 446.8 384 449.5 383 452.9 382.4 454.9 380 457.4M469.7 533.9 468.4 535.9 468 539.6 467.1 542.4 466.9 545.4 465.9 548.3 464.5 550.9 464 553.5 463.9 556.6 462.8 559.5 461.9 561.4 459.4 563.7 457.8 567.5 456 569.7 456.5 573.8 456.9 576.5 459.7 579.2 460.3 581.7 460.8 584.7 461.1 586.8 457.7 586.8 454.4 587.1 451.8 587.6 451.9 590.6 451.9 592.4 450.9 595.3 452 597.9 451.4 600.6 451.8 603.8 451.7 605.6 453.5 608.1 454.6 606.8 456 604.7 458.2 603.2 459.4 602.1 459 603.9 459.9 607.4 458.5 609.1 459.4 612.4 462 613.3 463.6 614 466.3 614.1M459.4 563.7 462.9 563.9 466.3 562.9 466.9 564.6 469 566.8 471.4 568 473.5 569.2 476.5 571.4 480.3 571.4 483.3 572.3 485.2 573.6 488.4 574.8 490.5 575.2 493.6 576.5M471.4 533 473.7 532.2 477.8 532.1 479.9 532.2 483.2 533.1 485.6 532.2 488.4 532.2 489.4 535.3 490.4 537.1 491.8 539 493 541.9 492.5 545.3 493.6 547.5 497.5 547.3 500.4 548.4 502.5 548.8 505.6 551 508.1 550.9 510.7 549.9 514 547.5M508.1 550.9 507.8 554.3 507.8 556.5 508.1 559.2 508.9 561.2 508.5 563.6 507.9 566.7 507.7 568.5 508.1 571.4 507.5 574.1 507.6 576 507.9 579.7 508.9 581.7 510 584.4 510.4 585.6 510.6 588.5 512.5 589.4 515.8 591.1 517.4 591.9 518.6 594.1 520 595.3M493.6 576.5 494.1 579.8 493.6 582.6 494.4 585.1 492.1 587.8 491.8 590.2 490.2 591.6 486.7 593.7 485 595.3 482.9 596.9 480 597.6 479.1 599.9 476.5 600.4 475.3 602.4 471.7 603.3 469.7 605.5 468.4 608.2 467.9 610.9 466.3 614.1M404.8 578.2 406.1 581.3 406.5 583.4 410 585.1 410.3 587.1 411.8 589.1 411.7 591.9 413.6 593 415.9 593.6 419.5 592.9 421.9 591.9 424.3 590.6 426.8 589.8 428.7 590.2 430.9 590.7 432.7 593.1 435.5 593.6 439 593.1 441.9 593.8 444.1 593.6 446.5 591.7 449.2 590.2 451.8 587.6M415.9 593.6 414.8 596.4 414.5 598.7 415.1 602.1 416 604.3 418 606.1 420.2 609 421.5 611.9 421.5 614 421.9 615.8 423.7 617 425.3 619.2 427.1 621.2 427 624 428.7 626 432 626.9 433.8 627.7 435.1 630.9 437.3 632.8 436.7 635.6 434.7 638.1 433.8 639.7 433.4 642.3 432.5 644 432.1 646.5 431.3 650.1M404.8 583.4 403.3 585.8 401.6 587.3 400.8 590.6 399.7 591.9 397.6 595.1 394.9 596.3 392.9 598.7 392.3 602 391 604.7 391.2 607.3 389.3 608.2 387.3 610.6 384.4 612.4 382.9 615.1 383.9 617.2 382.7 619.2 383.8 620.5 386.1 622.6 383.3 624.7 380.9 626 378.8 626.7 376.5 627.7 374.1 629.4 371.6 630.6 369 632 366.8 629 363.9 627.7 361.8 624.8 358.7 622.8 357.1 620.9 354.9 619.1 353.1 619 350.2 616.7 348.5 615.8 346.9 614.2 343.9 613.8 343 611.7 340 610.7M466.3 614.1 466.3 615.9 467.6 617.8 468 620.9 467.8 623.1 465.9 626 466.3 627.7 465.2 630.3 462.8 632.8 462.5 634.8 464.2 637.2 464.5 639.7 462.7 641.8 459.4 643.1 456.7 642.8 454.3 641.2 450.9 641.4 448.3 639.6 447 637.7 445.8 636.3 442.6 634.7 440.5 634.5 437.3 632.8M468 620.9 470.7 621.9 473.9 622.2 476.5 622.6 479.1 622.6 482.8 621.1 485 620.9 487.3 619.4 490.1 617.5 493.6 619.2 493.9 621.7 494.1 624.2 495.3 627.7 495.3 630.8 496.8 634.1 497 636.3 496.4 638.9 495.4 642.3 493.6 644.8 494.1 647.9 495.3 650.1M493.6 619.2 496.3 618.4 497.6 617.5 500.4 617.5 503.5 616.2 505.3 615.3 507.2 614.1 509.1 612.9 510.6 610.7 512 613.2 514.1 613.8 515.7 615.8 516.5 618.1 519.4 620.6 520 622.6M464.5 639.7 465.1 642 465.6 645 466.3 646.5 465.4 650.1M442.6 625 444.9 627.3 446.4 630.7 447.8 632.9 447.8 636.3 448.3 638.3 451.1 640.5 454 642.1 456.6 641.3 459.5 640.3 461.6 640.2 462.9 637.2 462.3 634.7 463.5 632.6 465.2 630.3 467 627.3 467.3 625M463.5 632.6 463.6 636.1 464.3 639 465.6 641.4 465.4 644 466.1 646.7 467.4 647.9 468.3 651.7 469.2 653.5 470.1 656.1 470.8 659.1 471.1 663 471.2 667 471.2 669.2 472.1 672.5 470.6 673.6 468.5 675.7 467.6 679 465.4 680.1 463 681.2 459.7 681.1 456.7 680.9 454 679.2M448.3 638.3 445.1 638.7 442.6 640 440.9 640.1 437.9 639.6 435 640.2 434.6 643.5 434.1 647.1 433.1 649.7 432.4 652.8 430.7 654.3 430.9 657.6 429.3 659.2 428.8 662.1 427.2 663.7 425.5 666.8M493.9 625 494 628.6 494.4 631.2 494.9 634.5 495.6 637 496.9 639.7 496.3 642.4 497.7 644 496.6 646.8 496.3 649.5 496.8 653.5 496.3 655.3 495.3 658.6 494.3 660.4 493.9 663 497.7 664 500.4 664 503.7 664.4 507.2 664.9M522.4 625 522.2 628.7 521.1 631.2 520.5 634.5 520.2 637.4 519.7 639 518.2 641.9 517.7 644 515.6 646.4 514.3 649 513.6 651.3 512.9 653.5 512.9 656.1 511 659.2M472.1 672.5 473 668.7 474.9 666.8 477.6 666.4 479.3 665.1 482.1 664.1 484.4 664 487.3 664.6 490.1 662.6 493.9 663M472.1 672.5 474.2 675.5 474.7 677.8 476.8 680.1 478.4 681.7 480.1 685.3 480.6 687.7 482.3 690.9 482.7 693.5 484.4 695.3 485.6 698.6 486.3 701 488 699.7 491.4 699.2 493.9 698.2 495.1 695.8 497.7 693.4 500.7 695.2 501.8 698 503.4 699.1 506 699 508.2 697.2M486.3 701 484.7 703.2 483 706.3 482.5 708.6 481 710.1 477.5 711.7 474.9 712.4 473.2 714 469.1 716 467.3 718.1 466.9 719.9 465.3 723.1 465.4 725.7 467.6 726.8 469.5 730.1 471.1 731.4 471.8 734.2 472.8 735.9 473 739 474.3 740.9 476.8 741.9M417.9 680.1 417.2 683.1 416.2 685 414.1 687.7 412.5 689.8 410.6 691.6 409.4 693.4 410.2 695.2 410.6 697.9 412.2 701 414 702.7 416 705.3 417.9 706.7 421.2 708.3 423.6 710.5 426 711.2 429.4 710.6 431.2 711.5 433 711.4 437 710.3 438.8 710.5M391.3 710.5 393.7 708.3 397 706.7 400.1 707.2 402.5 706.9 404.6 706.7 406.7 706.4 410 708.9 412.2 708.6 414.1 707.1 417.9 706.7M412.2 708.6 414.2 711.6 415.3 713.7 416 716.2 417.4 719.4 419 721.4 421.7 723.8 422.8 726.1 422.4 729.6 423.6 733.3 426.3 734.8 429.3 734.1 431.2 735.2M386.6 721.9 390.1 722.3 393.2 723.8 396.4 723.9 398.8 725.9 400.8 725.7 403.8 728.5 404.6 731.4 405.6 734.8 406.5 737.1 404.5 740.1 402.7 742.8M267.5 500 268.4 503.4 269.7 504.7 270.1 508.5 270.8 511.1 271.8 513.4 272.7 517.1 272 519.1 271.5 523.2 271.8 525.6 272.1 527.8 272.1 530.8 272.7 534.1 271.8 536.1 270.1 539.2 268.4 541.3 268.9 543.3 267.5 546.1 267.6 549.3 268.4 551.2 266.8 552.9 265.8 556.3M296.5 500 298.7 501.9 300.3 504.5 303.4 506.8 306.3 508.5 307 509.1 310.2 510.2 312 510.9 313.5 514 315.3 515.4 316.9 517.9 318.7 520.5 317 523.9M341.8 500 342.4 503.6 342.6 506.8 344.3 510.2M355.4 500 355.8 503.6 356.2 506.2 357.1 508.5M360.5 505.1 363.7 507.3 366.5 507.7 368.7 507.4 372.8 506.1 375 505.1 377.6 503.4 379.6 501.7 381.7 501 383.6 500M329.8 612.6 332.4 611.4 335.8 610.9 337.9 611.7 340.6 612.5 342.6 614.3 344.6 616.8 347 618.6 349.4 619.4 352 622.1 353.4 622.9 356.3 624.5 358.6 625.2 360.8 625.9 363.1 628 365.9 630.7 368.2 631.4 370.7 629.8 373.5 629.3 375 628 377.4 627.9 379.9 626 381.8 626.3 384.4 624.2 387 622.8 386.3 619.4 386.1 616 385.4 614.1 382.7 612.6 385.1 610.8 387 609.2 389.3 607 390.8 605.2 392.1 604.1 393.5 600.9 393.8 599 395.5 596.9 398.9 595.5 400.8 593 401.4 591.8 404 590.4 405.1 587.4 404.5 585.8 405.7 583.6M233.9 385.3 237.1 387.3 240 388.4 243.5 388.4 246.1 387.6 246.3 384.8 247.6 381.5 250.4 382.2 251.6 383.4 253.7 385.3 256.3 386.7 259 386.6 261.3 386.9 264.2 385.9 265.6 384.8 268.9 383.8 271.2 383.3 275 384.6 277 386.3 279.6 389.1 281.7 391.8 282.6 395.2 285.5 395.8 288.1 394.3 290.2 394.5 292.6 394.1 296.2 394.6 299.4 395.2 301.2 396.9 302.7 398.2 305.5 399.8 308 401.9 311.6 402.8 313.2 403.8 316.1 404.4 319.2 404.4M319.2 404.4 321.1 407.2 322.8 408.4 325.3 410.5 327.2 411.6 327.4 414.5 329.8 416.5 332 419.1 334.4 421.1 336.9 422 340.5 422.6 342 423.2 343.5 425.7 342.3 428.5 342.8 431.8 341 434.8 339.7 437.9 337.6 437.8 334.4 436.3 331.1 434.3 329.8 431.8 326.5 429.4 325.3 427.2 321.8 426.6 319.2 425.7 316.1 424.4 314.6 422.6 312.2 421.6 310 419.6 308.4 420.1 305.5 421.1 303 422.9 300.9 423.4 300.1 427.2 300.8 429.2 300.9 431.8 300.1 434.8 302.2 435.9 305.5 436.3 307.5 436.4 310 437.9 309.5 440 308.5 442.4 309.8 445.5 311.6 448.5 312.8 450.7 316.1 453.1 318.6 456 320.7 457.6 322.8 459 325.3 462.2 327.2 464 329.8 466.8 332.4 469.3 334.4 471.4 334.8 473.9 333.6 477.4 335.8 478.6 339 480.5 341 481.6 342.4 482.6 344.3 485.1 344.9 488 345.1 491.1 343.5 494 343.5 497.2 344.1 499.4 342.6 502.5 342.8 505M319.2 404.4 322.9 405.5 325.3 405.1 327.6 406.1 331.4 405.9 333.2 403.6 332.8 401.2 334.4 398.3 336.7 397.6 339 395.2 339.7 393 342.6 391.6 343.5 389.1 342.7 386.5 340.5 383 339.7 380M339 395.2 340.8 396.5 343.6 398 345.1 399.8 346.7 400.7 348.5 403.5 351.1 404.4 353.2 402.7 357.2 401.3 359.6 400.8 361.8 399.8 365.2 400.5 367.9 402.8 371.1 402.9 374 402.1 375.2 404.2 375.5 406.6 378.8 406.4 381.6 405.9 384.9 404 387.7 403.6 391 404.8 393.8 404.4 396.5 406 400 406.6M375.5 406.6 374.4 408.2 374.9 411.5 374 413.5 372.7 416.1 372.5 420.3 374.3 420.6 377 422.6 379 424.4 381.6 427.2 383 430.5 383.1 433.3 382.5 437.1 382.4 439.4 384.2 442.6 385.4 445.5 384.8 449.6 383.1 451.6 382 454.8 380.1 457.6 376.3 458.6 374 459.2 372.6 463 371.7 465.3 371.8 467.9 372.5 471.4 371.2 473.8 370.9 477.4 371.2 479.7 373.2 481.2 370.5 483.3 369 484 366.4 485.1 364.3 486.8 363 488.3 360.3 488.9 357.8 491 356 492.3 353.4 492.7 355.7 493.4 355.8 496.8 355 500.3 355.3 503 355.7 505M240 410.5 242.4 410.5 245.3 412 244.2 415.1 243.6 415.9 241.5 418.1 240 418.8M381.6 505 383.2 501.8 384.6 498.8 387.3 498.2 390.7 495.7 393.3 495.9 396.8 497.2 400 496.5M188.3 305.2 191.1 304.9 194.7 304 196.9 303.8 200.4 303.7 202.3 304 205.3 303.6 208.2 302.4 211.4 301.6 212.4 301.7 215.3 302 218.2 302.4 221.4 303.1 223.4 302 226.4 302.6 228.5 302.2 231 301.8M277.9 299.5 280.1 299.1 283 300.5 286 301.2 287.9 300.9 287.9 303.1 290.7 306 290.7 308.1 290.9 310 291.2 312.5 292.1 315.2M292.1 315.2 294.5 316.1 297.1 318.2 299.2 319.4 302.4 320.9 303.8 323.3 306.4 325.1 306.7 328 308.2 329.6 307.8 332.2 309.9 334.8 311.5 336.3 313.9 339.6 316.3 340.8 318.3 342.2 318.9 344.6 322.3 346.6 323.4 347.9 325.5 349.7 329.1 350.7 331 352.4 334.1 354.1 336.2 355 336.8 352.9 339.1 350.7 339.9 346.7M323.4 347.9 324.2 349.9 324.8 352.1 324.6 355.2 324.8 357.8 327.5 359.1 328.7 362 331.7 363.1 333.4 364.9 335.1 365.9 337 367.3 339.1 369.1 341.9 370.6 342.7 374.2 342.5 376.9 343.3 379.1 341.6 382.1 339.8 385.4 339.1 387.7 340.2 390.4 340.3 392 340.5 394.8M340.5 394.8 342.2 397 344.5 399.1 346 399.7 349 401 350.4 403.3 353 403.1 355.1 401.3 359.1 400.6 361.8 400.5 364.5 400.4 367.9 401.9 369.3 403.6 374.1 403.4 376 404.7 378.3 405.3 381.7 403.8 384.4 403.6 387 403.6 390.2 403.3 392.3 402.2 395.1 402.1 399.1 402.4 401.6 401.9 405 402.3 406.9 403.6 409.6 403.9 413 404.7M487.9 246.3 490.4 244.9 490.7 242.3 493.6 240.6 496.3 240.3 498.9 239.7 502.7 238.9 504.9 237.8 507.7 236.3 510.8 235.7 514.1 236.1 515.5 234.6 519.3 234.5 522 233.5 524.2 232.2 527.1 232.1 530.2 231.3 533.1 229.7 536.2 229.2 538.7 226.9 540.5 225M783.3 330.3 785 333.1 784.8 335.7 786.4 336.6 787.9 338.7 791.2 339.4 793.9 339.5 797.6 340 799.8 339.4 803.1 340.2 804 338.4 804.6 335.7M781.8 353.9 781.7 356.7 780.2 360 778 363.3 777.2 366.1 775.9 369.8 775.7 372.2 773.8 374.7 772.6 378.3 772.1 381.1 771.1 382.9 774.1 384.7 775.7 387.4M781.8 353.9 784.5 354.4 787.9 357 789.1 359.5 790.9 363.1 794.2 365.6 797 366.1 799 368 801.6 370.7 804.3 372.5 806.1 375.3M777.2 366.1 780.1 364.7 783.3 363.1 785.9 363.5 787.7 363.6 790.9 363.1M746.7 363.1 749.8 363.1 752.8 364.6 755 364.2 757.5 364 760.5 363.1 762.9 364.3 765 366.1 766.5 368.7 768.2 370 769.6 372.2 770.7 376.2 772.6 378.3M749.8 372.2 750.5 374 752.3 377 753.3 378.2 754.4 381.4 754.2 385.3 756 387.3 755.9 390.5 757.1 392.4 759.8 394.4 760.5 396.6M781.8 353.9 782.6 351.1 782.5 347.9 783.6 345.1 785.9 341.7 787.9 340.2" fill="none" stroke="#808080" stroke-width="1.45" stroke-linejoin="round" stroke-linecap="round"/>
<path d="M321.5 226.4 321 228.9 318.6 230.4 318.2 233.2 316.3 236.2 314.2 237.4 313 240.6 314.6 243.7 314.8 246 316.1 248.5 315.4 251.6 317.3 254.8 320.3 256.1 322.5 258.6 325.4 259.4 327.2 260.5 328.7 262.4 331.1 264.8 332 266.4 335.4 268.8 337.2 270.6 338.1 272.2 340 274.7M282.9 606.6 285.6 605.4 288.2 605.9 291.4 604.1 294.6 604.3 298.2 603.2 301.2 602.6 303.4 603.2 302.7 601.2 302 597.6 301.7 595.5 301.4 592.4 299 589.7 299.1 587 299.7 583.5 300.5 581.7 300 578.5 301.3 575.3 300.7 573 301.7 570 303.1 567.5 305.1 564.8 306.6 562.6 309.3 559.7 310 556.6 311 554.9 311.9 552.9 311.6 549.7 310.2 547.8 306.8 546.1 309.9 544.6 311.9 544.4 315.4 543.8 317 542.7 317.9 539.3 317.9 536.7 316.9 534.5 314.5 532.4 313.5 529.9 311.9 527.3 314.3 526.5 317 523.9 319.1 523 321.6 522.3 323.8 520.5 327.8 521.1 330.7 520.5 332.7 520.2 336 518.8 337.5 517.1 335.8 514.9 334.1 513.6 336.9 511.3 339.2 511.1 341.7 510.7 344.3 510.2 345.6 513.6 346 516.2 349.4 514 351.1 511.9 353.6 509.9 357.1 508.5 358.7 509.8 360.5 512.8 361.4 514.5 361.6 517.7 363.1 520.5 364.5 522.4 364.2 525.8 365.6 529 366 531.7 365.7 535.5 366.5 537.5 367.5 539.9 366.9 542.2 368.2 544.4 367.5 547.3 368.2 549.5 372.2 549.2 375 549.5 377.2 550.1 381.2 550.9 383.6 551.2 385.8 552.1 388.8 552.9 390.4 553.7 392.1 554.7 394.8 555.1 397.2 556.3 399.6 558.9 402.3 559.7 404 562.2 404 564 401.6 565.7 398.9 565.7 396.2 565.2 395 564.9 392.1 564 388.6 563 386.1 562.3 384.2 563.5 382.7 565.7 384.9 563.8 387 563.1 387.5 565.1 389.5 567.4 389.4 571.3 390.4 573.4 391.3 575.7 392.1 578.5 395.2 578.1 396.2 576.9 398.9 576.8 401.4 575.5 403.3 574.5 405.7 574.2 408.1 573.7 410 573.4M624.6 199.3 621.2 197.4 619.8 195.5 617.9 192.8 615.1 191.7 613.6 190.5 610.8 189.1 608.4 188.8 605.4 187.6 602.6 187.6 600.8 186.9 600.3 188.5 598 190.7 598.6 194.2 598.9 196.4 597 198.7 597 200.2 599.4 202.6 600.8 204 603.6 203.3 607.5 202.1 609 204.6 610.3 205.9 611.9 208.8 613.2 211.6 614.8 213.9 616 217.3 615.5 219.9 615 221.7 614.1 224.9 614.6 228.1 613.2 231.6 610.7 232.9 609.4 234.4 607.5 233.5 608.8 231.6 611.3 229.7 610 227.9 607.9 224.6 606.5 223 605 221.2 604.6 219.2 601.6 218.8 599.2 218.8 597 219.2 593.2 220.2 590.4 220.2 587.5 223 587.2 225 588 228.2 589.4 230.6 590.8 232.2 590.9 236.1 592.3 238.2 593.2 240.7 592.7 244.3 593.2 246M654 217.3 653.1 219.7 652.1 221.1 653.3 223.3 654 226.8 656.4 227.5 658.1 229.4 660.7 230.6 662 232.5 663.1 234.9 663.5 238.2 665.6 239.9 667.7 241.6 669.2 243.9 671.8 245.2 673 246M907.2 243.1 906.9 247 906.7 248.9 906.3 252.6 904.2 254.5 901.5 257.4 902.4 258.9 902.5 262.1 905.5 263.7 907.1 263.7 909.4 264.7 912 265.9 910.3 267.4 908.9 270.6 907.2 271.6 905.4 272.1 901.6 273.1 899.6 274.5 897.7 276.5 895.4 277.1 894.2 279.3 892 281.1 894 284.2 895.8 286.8 894.6 290.6 895.2 293 893.9 296.3 892.5 299 892.3 301.4 891.9 304.4 891.1 306M818.9 215.6 819.1 218.3 820 220.6 819.8 224.1 819.9 227.3 821.8 228.7 821.7 231.7 822.4 234.2 823.4 237.4 823.6 239.3 824.8 242.1 825.5 245 827.1 247.2 829.3 247.9 826.7 249.2 823.6 250.7 820.9 251.6 818.8 251.4 816 252.6 814.9 254.5 813.2 256.4 812.6 259.7 812 261.1 811.3 264 809.7 267.2 808.4 269.7 806.5 271.6 805.6 274.5 802.7 277.3 802.6 280.4 802 281.8 801.5 284.3 799.9 286.8 799.1 289.6 798.4 292.5 798.9 294.4 797.6 297.9 797 300.1 799.3 302.3 799.4 303.5 800.8 306M740 296.3 743.1 296.2 744.8 295.4 746.8 296.7 749.5 300 752.4 301.7 754.3 303 755.8 301.8 758.3 301.4 762 301.6 763.4 300.1 766.6 300.1 768.8 297.6 772.2 296 774.2 293.7 776.1 292.5 778.3 291.1 780.9 289.7 783 290.1 785.6 291.6 789.1 290.5 790.1 289.3 791.9 287.1 795.1 285.9 796.8 289 798.4 291.3 798.9 294.4M891.1 306 887.3 305.5 885.4 306.2 882.2 308.7 880.2 309.6 877.8 311.2 875.1 312.4 873.9 314.6 870.5 315.9 869.3 317.8 866.5 319.2 865.7 321.7 862.6 323.5 859.9 325.1 857.5 327.1 855 327.3M340 280.2 343 280.3 345.7 279.3 348.6 276.8 351.4 276.4 352.1 279 352.4 281.2 349.6 283.2 347.6 285 345.3 287.6 342.7 288.7 341.9 290.7 343.8 292.6 346.3 294.5 349.5 296.4 351.3 298.2 353.1 301.6 355.2 303 355.5 306.2 355.7 308.6 357.1 310.6 359.5 312.6 360.9 314.4 363.5 313.3 366.4 312.4 368.5 312.5 369.8 314.6 371.4 317.3 371.4 319.7 373.3 323 376.3 324.8 379 324.9 381.2 322.5 384 321.4 385.6 320.1 389.4 321.1 388.3 324.2 387.5 327.7 387.9 329.5 390.4 331.5 391.6 329.4 392.3 325.8 394.4 324.9 398 325.2 400.8 323.9 403.1 325.9 406.5 327.7 408.7 329.5 411.3 329.6 413.2 331.5 416 332.3 419.8 332.5 420.6 334.5 422.9 337.4 423.6 339.1 426.2 342.1 428.4 342.9 430.8 341.8 433.1 341 434.9 343.6 436.9 344.8 438.1 347.7 438.8 349.6 442.3 348.2 444.5 347.7 445.9 346.6 448.3 344.8 448.1 347.4 448.6 350.4 449.3 354.3 448.7 357 449.4 358.8 450.2 361.9 448 362.5 445.5 363.8 442.5 366.4 439.8 367.6 440.6 370.1 440.5 373.3 439.8 375.2 438.3 376 436.9 379 437.9 381.8 438.8 384.7 441.4 386.2 443.6 386.6 447.2 386.9 449.3 387.6 450.7 386.1 453.4 385.9 455.9 383.8 458.2 382.3 460.3 381.8 463.5 380.9 465.9 382 468.1 382 471.1 381.9 472.8 380.4 474.4 377.6 474.9 375.2 478.1 374.6 479.8 373 482.2 372.3 484.4 370.5 487.2 368.3 490 368.3 492 366.7 494.7 365.4 497.7 362.9 500.7 362.1 503.7 362.3 505.3 361 507.4 363.3 508.2 365.7 507.6 368.9 507.2 372.4 509.1 373.4 511 376.2 513.5 375.2 515.7 374 518.6 373.3 522.4 372.3 525.3 371.4 528.1 370.8 531.9 369.5 534.4 370.2 538.2 370.3 540.1 369.5M471.1 381.9 471.4 384.9 469.7 387.3 470.2 390.4 469.9 393 470.6 395.8 470.2 398.8 469.2 402M511 376.2 513.8 377.9 516.7 379 519.5 381.1 523.2 381.6 525.3 382.8 526.7 385.5 528 388.5 530 390.4 531.2 393.3 531.9 396.1 531.1 399.9 530 402M591.5 240 590.9 243.1 593.3 244.9 593.9 246.2 595.9 246.1 598.9 248 600.9 249.4 603.8 251.1 605.6 251.6 608.7 252.3 611.6 251.9 613.6 250.5 615.5 247.4 618.6 248.6 620.4 251.2 621.7 252.3 622 254.8 619.1 254.6 617.3 256 614.3 258.5 611.8 261.6 609.8 261.4 606.3 262.2 604 263.2 601.6 261.7 598.9 262.8 596.6 262 592.7 260.9 589.3 260.3 587.2 259.7 585.3 263.4 584.4 266 584.1 267.7 583.6 270 581 272 580.6 274.9 579.4 276.4 582.8 277.6 586.2 277.7 587.8 278.8 590.8 278 592.7 278.2 594.3 279.9 596.4 281.9 597.6 284 600.1 285 602.4 286 606.3 286.8 609.4 288.2 611.2 288.1 614.9 289.9 615.5 293.6 613.7 295.7 611.8 296.1 608.7 297.3 606.9 298.2 603.8 298.5 601.2 299.8 598.9 300.4 595.9 301.9 595.2 303.5 593.3 307.2 592.7 310.9 590.2 310.3 588.4 311.5 587 312.7 585.3 315.2 583.7 316.9 582.8 318.9 579.9 320.6 577.9 321.3 576.2 323.1 573 325 571.3 326.3 568.1 326.9 564.4 328.1 564.1 332 564.1 334.9 564.5 338 563.7 341M608.7 297.3 608.9 299.6 609.3 301.6 610.7 304 611.8 306.5 613.3 308 613.6 311.5 615.9 313.3 618.6 315.8 620.4 318 623.5 320.1 625.3 322.2 628.4 323.8 631.6 323.7 634.6 325 637 324.3 640.1 323.8 643.2 321.3M592.7 310.9 591.2 313 590.2 316.4 590.9 320.1 593.9 322.6 593.3 326.3 591.5 330 592.7 333.1 593.9 334.9 595.2 336.7 596.4 338.6 598.9 341M653.9 225 655.6 226.7 657.6 228.3 659.9 228.4 661.3 229.6 662.4 232.7 663.5 234.8 663.3 237.8 665.7 239.2 666.7 241.2 668.6 242 670.9 243.3 674.2 244.4 676.1 245 677.8 245 680.3 246.3 681.4 248 682 250.6 684.6 251.4 688 249.3 690.7 249 692.3 247.6 694.3 247.3 697.4 247.2 699.7 246 703.4 246.3 704.2 249.7 703.1 252 703.4 254 704.9 256.1 705.1 258.3 706.7 260.6 706.8 263.4 706.5 265 705.1 267.7 704.7 270.6 705.1 272.8 701.7 271.9 698.2 272.8 698.5 274.8 699.1 277.9 699.2 280.4 700 283 700.7 284.7 702.5 287.3 703.5 289.3 706.8 291.5 708.5 295M706.5 293 709 295.5 705.3 297.3 709 297.9 711.1 299.3 712.7 301.6 714.6 303.2 716.4 306.5 718.5 309.9 720.1 311.5 721.3 315.2 722.6 317.2 723.8 320.1 725.7 321.4 728.7 322.6 731.4 322 733.6 321.9 735.1 323 737.3 325 736.8 327.9 734.9 330 732.5 332.7 732.4 334.9 735.2 335.5 737.3 337.3 738.3 338.7 739.8 341M720.1 312.7 722.7 310.8 725 308.4 727.7 309.2 731.2 309 735 308.3 737.3 306.5 738.7 305 741 302.8 741.6 301.1 743.1 298.1 743.5 296.1 747.2 294.8 749.5 297.6 750.9 299.1 753.6 301.4 754.6 304.1 757.3 303.6 760.8 301.6 762.4 300.7 765.7 299.8 768.2 299.5 770 299.1M640 325 642.8 324.7 644.9 325 647.8 325.3 650.7 325.6 652.3 326.3 653.3 328 654.8 331.2 657.9 331.4 659.7 333.5 662.2 333.6 662 336.9 660.9 338.6 660.3 341M566.2 330 565.6 331.8 565.6 334.9 564.9 337.7 565 339.4 563.1 342.3 562.4 345.4 560.7 346.7 560.7 349.7 559 352.4 558.4 354.6 558.2 357.1 556.1 359.4 555.7 362 553.2 363.4 552 365.7 549.8 367.5 547.1 368.2 544.9 369.4 542.2 370.7 539 370.3 536 369.4 533.3 370.3 529.9 371.9 527.4 372.3 524.9 371.9 522.6 372.2 520 372.5M520 378.1 521.8 379.3 524.9 380.5 526.5 382.7 528.6 385.5 528.8 389 529.9 391.6 531.4 393.8 533.6 395.3 531.7 398.6 529.9 400.2 528.7 402.5 527.4 405.2 526 407.7 523.7 410.1 522.6 413.7 522.5 416.3 524.6 418.4 526.2 420 529.3 420.4 532.3 421.8 536 420 538 418.7 540.9 417.5 543.9 418 545.9 418.7 546.5 420.9 548.3 423.6 549.2 426.5 549 428.6 550.8 431M550.8 428.6 554.2 428.2 557 427.3 560.4 426.2 563.1 424.9 564.3 423.7 566.4 422.6 569.3 421.2 572.4 419.3 574.2 416.3 577.5 414.2 579.1 412.6 582 412 585.3 410.1 587 409.4 590.2 408.9 593.9 410.1 594.9 412.6 596.4 413.8 598.7 414.9 601.5 415.9 603.8 417.5 606.9 418.4 609.2 419 611.2 418.7 612.7 416.7 614.7 413.8 616.1 412.6 617.8 413 619.8 415 621.7 418 622.3 420 623.8 421.6 626.6 423.3 628.4 423.6 630.6 425 633.4 427.3 634.8 429.3 637.1 431M592.7 330 595.5 332.6 596.4 334.9 598.2 337.2 600.1 339.9 601 342.6 602.6 346 605 347.8 606.3 350.9 608.2 352.1 611.2 354.6 612.8 356.7 613.6 358.3 613.2 360.9 612.4 362.7 615 362.6 618.6 362 621.8 360.5 624.7 360.8 627.5 360.7 630.9 360.2 634.5 359 637.1 359 639 360 642 359.6 643.8 361.6 645.7 363.3 647.3 363.8 650 365.7M654.8 330 657 332.5 658.5 334.9 658.9 338.1 659.7 341.1 662.3 342.7 664.6 346 666.1 348.8 667.1 352.2 668.9 354.7 670.6 356.6 670.8 358.3 674.6 359.3 677 360.8 678.7 362.8 679.3 364.2 680.7 367 681.7 370.2 683.1 371.9 685.8 373 688 374.8 689.3 375.6 691.6 376 693.9 377.8 695.5 379.3 697.9 381.8M697.9 381.8 700.5 379.9 701.6 378.1 703.6 377 705.9 375.6 706.2 373.7 705.3 370.7 702.9 368.1 701.6 365.7 699.9 361.9 699.1 359.6 697.8 356.7 697.9 353.4 697.8 351.6 699.1 348.5 700.7 346.9 704.1 346 707 344.9 710.2 344.2 713.9 342.9 715 345.4 716.4 348.5 718.3 350.1 719.6 351.4 722.6 352.2 724.6 353.4 727.3 354.8 728.7 355.9 731.9 356.1 733.6 357.1 735.7 355.7 738.6 354.6 740.7 352.8 742.3 350.9 742.1 348.5 742.9 344.8 742.2 341.5 739.8 338.6 738.5 336.1 738.6 333.7 736.8 332.6 733.8 331.2 732.4 330M733.6 357.1 735.4 358.4 736.2 360.8 738.6 362 740.4 363.5 742.7 366.5 744.7 368.2 746.5 370.5 748.4 373.1 749.6 376.6 749.7 379.3 750.5 382.9 750.9 385.5 752.5 387.8 753.8 388.7 754.6 391.6 755.3 394.7 757.1 396.5 760 398 763.2 399 765 398.5 767.8 397.2 770 397.2M757.1 396.5 758.6 398.9 760.6 401.1 763.2 403.9 764.9 405.7 767.5 407.8 770 410.1M697.9 381.8 696.9 383.3 695.4 386 694.2 387.9 693.7 390 691.4 391.9 690.5 394.1 689.6 397 689.3 399 689.4 401 689.9 403.9 691.8 406.8 693 408.9 695.7 411.1 697.9 412.6 701 413.5 704.1 415 707.8 415.1 710.2 413.8 712.6 415.1 716.4 416.3 718.1 417 721.8 418.9 723.8 418.7 725.7 421.2 728.7 423.6 729.2 425.9 731.2 428.6 733.6 431M640 359.6 641.7 361.7 645.2 362.6 646.2 364.5 649.2 365.9 651 367.3 653.6 368.2 655.3 370.3 658.5 371.9 659.6 374.6 662.2 376.8 664.6 378.6 665.9 381.8 667.4 382.8 667.8 385.4 669.6 387.9 672 390.4 673.9 388.8 677 387.9 680.2 390.6 681.9 392.8 684.8 394.3 686.8 394.1 689.9 394.1M672 390.4 671.8 393.5 673.3 396.5 672.6 398.6 672.1 401.9 672.7 403.9 672.5 406 673.3 408.9 671.6 412.4 669.6 413.8 666.9 414.1 665.2 413.9 662.2 415 659.1 415.3 656 416.3 653.8 417.1 651.6 419.6 649.9 420 647.8 422.2 645.7 422.5 643.7 424.9 640 426.1M798 295.7 799.5 297.7 801.8 298.8 803.7 301.4 804.9 303.7 807.5 305.2 809.4 307.1 812.7 307.8 814.8 310.3 817 310.9 819.3 309.5 822.7 308.1 826.4 307.3 829.4 307.1 831 309.1 832.8 310.5 835.1 312.8 835.3 315.5 837.1 318.3 837.9 320.4 839.8 323 840.9 325.8 841.7 328 843.4 329.5 844 332.6 845.5 334.7M894.9 290 893.8 292.8 892.9 295.2 891.1 297.6 889.6 301.1 887.3 303.4 885.4 305.2 882.8 307.1 881 308.4 878.2 310.3 875.9 312.8 872.6 314.5 870.2 316.7 868.3 318.5 865.7 320.2 863.6 320.4 861.7 323.3 858.8 324.2 856.7 325.7 853.5 328.8 851.2 329.9 849.9 331.3 847.7 333.6 845.5 334.7M845.5 334.7 845.1 338.1 843.6 341.3 841.7 344 839.8 347 837.5 349.3 836.1 351.9 834.1 352.7 832.5 354.6 828.7 356.2 826.5 358.4 825.2 359.9 823.2 361.6 821.8 364.1 821.8 366.6 822.7 369.8M822.7 369.8 825.7 371.9 828.4 373.6 831 374.6 834 375.5 836 377.4 838.2 379.3 841.7 381.2 843.6 384.1 846.5 384.5 849.3 384.1 851.2 385 850.5 386.8 851.7 389.4 851.2 392.6 848.4 395.5 851.1 395.4 855 396.4 857.1 396.9 860.1 397.3 862.6 398.3 865 401.4 866.4 404 866.7 405.8 868.5 407.5 869.3 410.7 870.9 409.7 874 408.8M822.7 369.8 819.3 371.7 817 373.6 814.1 374.5 811.3 377.4 807.7 376.6 805.6 374.6 802.2 376.5 799.9 377.4 797.7 378.1 794.3 379.6 792.3 379.3 789.9 379.9 786.8 380.8 784.7 381.2 782.3 383.7 780.9 386.9 779.6 389.9 777.1 392.6 774 393.8 771.4 396.4 768.7 396.8 766.2 397.8 763.8 398.3 760 398.3M574.2 420 571.8 421.8 569.4 423.2 566.8 423.7 564.2 424.1 560.7 426.2 557.7 427.9 555.7 428.6 553.7 428.5 550.8 430.5 547.4 431.2 544.6 432.3 541.9 433 539.7 434.8 538.6 437.4 536 439.7 533.6 440.8 532.3 442.2 529.9 444 527.4 444.6 525.8 446.5 524.9 448.3 527.4 450.8 529.6 452.7 530.5 455.7 530.1 458.4 529.2 460.7 527.7 462.1 524.9 463.7 522.8 463.1 520 463.1M524.9 463.7 526.8 466.1 529.9 468.1 533.4 468.9 536 469.3 538.6 470.2 539.7 471.8 539.7 475.1 538.5 476.7 536.8 478.8 534.8 479.1 534 480.6 532.3 482.8 532.5 485.9 532.3 489 532.9 490.8 533.6 493.9M543.4 465 544.8 462.8 546.5 460 549 459.3 550.8 457 552.8 456.4 555.7 455.7 558 456.3 560.7 455.1 561.9 457 564.6 459.4 566.8 460.7 569.8 461.9 571.8 463.1 573.5 462.3 576.7 461.9 578.9 460.5 581.6 460.7 583.7 460.8 586.5 459.4 589.4 457.9 591.5 457 592.7 455.3 595.2 453.3 597 452.1 598.9 450.8 602.1 451.2 603.8 450.2 605.5 452.2 606.3 454.5 607.8 456.2 610 459.4 612.4 461.7 613.6 463.1 615.8 464.8 617.3 466.8 621 468.7M536 469.3 537.5 468.8 539.7 466.8 543.4 465M622.3 420 623.8 421.6 627.2 422.5 629.8 424.1 631.7 425 633.4 427.4 635.8 429.4 637.1 432.3 638.4 434.7 638.3 438.5 639.5 440.7 640.1 444.6 641.6 447 642 450.8 641 452.7 639.5 455.7 637.3 457 635.8 459.4 634 461.3 630.9 463.1 628.7 464 626 466.8 624 467.1 621 468.7 618.4 468.8 616.1 470.5 613.7 472.7 612.4 474.2 613.3 476.5 613 480.4 610.6 481.4 608.7 482.8 607.4 484.1 606.3 486.5 607.3 488.5 608.7 491.5 612.4 492.7 612 494.8 611.2 497.6 612.1 499.3 613.6 501.3 614.7 503.9 614.9 506.3 615.9 509.2 615.3 510.7 615.5 513.6 616 516.1 615.1 518.9 614.9 521M621 468.7 623.5 470 626 471.8 627.1 473.4 629.7 474.2 632.6 472.5 633.4 470.5 636.5 471.8 638.3 471.1 640.8 472.7 642 474.2 642.8 476.3 644.5 479.1 644.3 482.1 645.7 484.1 647.7 485.8 650 486.5M614.9 505 616.6 502.2 618.6 501.3 621.1 500.2 624.7 500.1 627.2 501.1 630.9 501.9 634.4 502.2 637.1 502.6 640.3 501.2 643.2 501.3 646.4 500 650 500.1M640.1 444.6 642.7 442.1 644.5 439.7 646.6 438.4 650 438.5M640 440.9 641.2 442.7 643.7 443.4 645.9 442.7 648.6 442.2 651.5 442.6 653.6 442.2 655.2 443.5 657.3 444.6 660.9 443.4 662.7 445.9 664.6 448.3 668.3 449.6 671.1 446.8 673.3 445.9 676.1 444.3 677 442.2 679.8 441.8 681.9 439.7 685.6 440.9 686.7 442.9 689.3 444.6 689.5 448.1 690.5 450.8 693.2 452.7 695.5 452.7 697.7 453.1 700.4 452 701.9 453.9 704.1 455.1 706.3 454.5 709 454.5 712.1 454.3 713.9 453.3 714.8 455.7 716.4 457 717.4 458.7 717.6 461.9 718.9 463.7M640 471.8 641.4 473.4 643.7 475.5 644.8 476.8 646.9 479.6 647.4 481.6 650.6 483.4 652.3 485.3 655 486.6 656.3 487.3 658.5 489 660 489.7 662.8 491.5 663 489.2 663.4 486.5 665.7 483 668.3 481.6 670.1 482.3 673.3 484.1 675.7 485.4 679.4 485.3 681.6 484.4 685.6 484.1 686.8 486.5 688.9 489.7 689.3 492.7 691 495.2 693 497.6 694.7 498.7 695.5 501.4 697.9 502.6 700.5 504.9 702.8 505 706.5 503.8 707.4 500.5 709 498.9 711.4 496.7 713.9 496.4 716.5 496.2 718.2 495.2M702.8 505 702 508.6 701.6 511.2 700.9 514.5 699.1 517.3 700.6 518.8 701.6 521M662.8 491.5 661.5 494.5 659.7 496.4 659.1 499.3 658.6 501.5 658.5 503.8 657.1 507.3 657.3 510 658.3 512.8 659.7 516.1 659.5 518.5 660.9 521M659 510 660 512.2 659.4 515.8 660 517.6 660.2 520.3 660.9 522.4 663.8 523.5 665.9 522.9 668.5 523.3 670.8 523.2 673.6 521.3 676.1 521.4 678.2 522 681.8 521.7 683.7 521.4 686 521.8 688.5 523.8 691.3 525.2 694.3 527.2 696.9 527.2 698.9 528.1 699.5 530.9 700.8 534.7 700.2 537.4 702.2 540.9 701.8 544.2 701.3 546.8 699 549.4 698 550.9 697.5 553.9 697 555.6 698.6 558.8 700.8 561.3 700.9 563.9 699.9 567 703 567 706.5 567 708.2 569.1 710.3 570.8 710.3 573.5 708.9 575.3 709.4 578.4 710.1 580.1 711.2 582.6 711.3 586 712 589.9 712.2 592.7 708.8 593.6 706.8 594 704.6 595.5 701.8 597.4M704.6 510 703 512.1 700.8 515.7 700.6 517.7 699.9 520.5 701.5 522.1 704.6 524.3 701.9 526 698.9 528.1M512.2 505 512.9 507.9 513.7 511.1 512.7 514.8 510.7 517.2 510.5 520.5 511.4 523.3 512.4 525.9 511.4 529.2 512.2 530.9 511.6 532.6 511 536.2 511.4 538.5 513.2 542.1 513.7 544.6 515.2 547.4 516.7 548.4 519.1 547.9 521.3 548.4 522.1 546 523.6 543.1 525.6 540.5 526.6 537.7 529.3 536.6 532 536.2 534.1 537.7 536.5 537.7 537.9 540.9 540.3 543.1 540 545.6 541.9 549.2 540.4 551.6 538.8 553.7 537.9 556.7 538.1 558.3 540.2 560.7 542.6 562.9 544 565.3 545.7 567.4 548.7 569.7 551.4 567.5 552.5 565.9 553.1 562.7 555.6 559.8 557.9 559.3 560.9 556.8 563.4 556.4 567 554.5 569.8 554.3 571.6 553.7 574 555.1 576.1 557.5 576.6 560.1 576.1 562.1M567 554.5 569.2 553.2 571 551.6 573.1 550.7 576 548.9 577.4 547.5 579.2 544.6 580.6 542.2 582.2 539 583.7 537 586.9 536.8 589.8 537.7 592.5 539.6 594.4 540 595.9 538 599 537 600 534 600.5 532.4 602.6 530 604.5 529.1 606.6 527.8 607.9 525.6 608.1 521.7 609.1 519.1 611.1 515.7 611.5 512.7 613.4 509.6 614.2 507.2 614.2 505M660 514.1 657.6 511.8 656.8 509.6 657.4 507.9 658.3 505M469.8 395 469.5 398.1 470.9 400.7 470.6 402.6 469.8 404.6 470.9 408.4 469.8 410.2 468.5 411.9 467.2 415.5 466.8 417.8 463.9 420.3 462.2 422.4 460.1 424 459.2 427 457.6 430.6 457.6 433.1 457.5 436.5 456.9 439.2 458 442.1 459.2 443.7 458.4 446.4 457.6 449.8 460.3 451.8 462.2 454.4 463.8 457 463.7 458.9 461.8 460.5 460.7 463.5 459.5 466.7 459.2 469.6 460.7 472.9 460.7 475.7 459 477 457.6 479.5 455.3 481.5 451.6 482.5 450.4 480.7 448.5 479.5 445.5 478.7 443.6 478.8 440.9 480.3 438.2 481.2 435.3 480 431.8 481 429.5 481.8 430.7 484.4 430.2 486.4 432.1 488.6 432.5 490.9 432.6 493 431 495.5 434.1 497.2 436.3 497.8 438.6 498.8 440.9 500.1 443 501.7 443.9 504.6 442.4 506.8 440.9 507.7 443.4 509.8 445.5 510.7 446.3 513.3 447 515.3 448.3 517.3 448.5 520M477.4 520 477 517.3 477.4 513.8 479.7 512.1 482 509.2 483.9 508.3 486.6 507.7 489 508.7 491.1 508.4 492.9 507.2 496.2 506.1 497.2 504.6 498.8 503 500.3 501.6 502.9 502.3 506.4 501.6 507.9 500.6 510.9 500.1 513.6 499.2 515.5 498.5 515.6 496.2 517 494 517.1 490.8 515.5 487.9 512.6 486.2 510.9 484.8 510.1 482.3 507.9 480.3 509 477.4 510.9 475.7 512 472.6 512.2 471 512.5 468.1 513.8 466.1 515.5 463.5 518 462.9 521.4 463.1 523.1 462 526.3 462 529.2 460.5 530.6 459 530.7 455.9 530.6 452.4 529.2 449.8 531.1 448.9 532.3 446.8 534.1 447.1 536.8 445.2 539.2 442.9 540 440.7M515.5 498.5 514.8 502.1 514 504.6 513.6 508.2 512.5 510.7 513.3 513.6 514 516.8 512.5 520M523.1 410.2 524.5 413.6 524.6 416.3 525.8 417.7 527.8 419.8 530.7 420.9 533.5 419.2 536.8 417.8 540 416.3M358.8 510 360.1 512.9 360.5 515.1 362.2 516.8 362.8 518.4 364.1 521.2 363.9 523.6 364.3 526.4 364.2 529.4 365.6 532.2 366.1 534.9 366.8 538.5 366.4 540.7 366.9 543.6 367.6 545.9 368.2 549.2 371.3 549.2 375.2 549.8 377.5 550.1 379.9 550.9 382.9 550.9 386.1 552.7 388.9 553.8 389.9 555.4 392.9 556.1 394.9 557.4 397.5 557.8 399.7 558.6 401.9 559.7 404 562.9 401.4 565.5 398.3 564.9 395 565 392.9 564.6 391.1 563.3 388 563.6 386.1 562 384.1 563.2 381.8 565.5 382.9 563.2 385.2 562 387.8 563.5 388.6 565.5 388.8 567.3 389.5 569.7 390.1 571.8 391.1 574.2 391.2 577.4 394.5 578.4 398 578.2 400.9 577.4 404 575.7 405.8 572.8 406.5 569.7 408.3 567.7 409.7 565.6 411.7 562.9 414.2 561.6 415.3 559.4 416.8 557.8 418.4 555.9 421.6 554.2 423.6 553.5 425.5 550.7 428.7 549.2 431.7 548.1 433.2 546.9 435.5 545 434.1 541.8 433.8 539 431.6 537.3 430.4 535.6 431.7 532.5 433 530.5 436.5 528.7 439 527.1 441.3 525.1 442.4 521.9 444.4 521.4 446.6 518.5 447.5 516.5 447.3 513 447.5 510M447.5 515.1 448.3 517.4 451 519.8 451.9 522.4 452.8 523.6 453.9 526.4 456 528.8 457.6 530 461 532 462.8 533.9 465.9 534 468.9 533.2 471.4 533 472.4 531.2 473.2 528.2 474.2 526.6 474.8 523.6 475 521 475.2 518 476.5 515.1 478.2 512.6 479.1 510M510.6 510 511.8 513.1 512.5 515.9 512.3 518.5 512.5 520.8 511.6 524.3 510.6 527.1 511.5 530.2 510.6 532 511.5 535.1 512.3 537.3 512.5 539.5 512.5 543.3 514.4 544.5 514 547.5 516.7 548.3 520 550.1M364.7 671.6 367.9 672.6 370.6 672.9 372.3 674.4 374.3 673.7 377.7 674.2 380.1 672.6 383.7 672.5 385 670.9 386.8 668.6 389.4 666.8 391.9 665.7 394.3 663.9 397 663 400.4 661.9 402.7 660.2 405.3 662.9 406.5 664.9 406.6 667.7 407.7 669.7 408.4 672.5 411.8 673.5 412.8 674.9 416 676.3 419.3 676.7 421.3 674.8 423.6 675.4 423.8 672.4 425.4 670 425.5 666.8 427.1 669.9 428.4 672.5 430.4 675.3 431.2 678.2 434.8 679.9 436.9 681.1 438.7 678.6 439.8 677 442.6 675.4 444.7 674 448.3 673.5 449.8 675 451.2 677.2 454 679.2 453.4 682.6 454.1 684.5 453.1 687.7 452.3 690.8 451.7 693.7 452.1 697.2 451.5 701.2 451 704.4 450.2 706.7 448.5 708.5 447.3 712.4 446.4 714.3 444.3 716.1 442.6 716.2 440.9 712.7 438.8 710.5 437.9 712.7 436.9 716.2 435.4 718.2 435 721.9 436.2 725.3 437.9 727.6 437.7 730.8 436.9 733.3 433.7 734.5 431.2 735.2 431.2 738.6 430 740.8 429.3 742.8 428.6 745.9 428.4 748 427.4 750.4 426.2 753.7 423.6 756.1 421.5 758 419.8 758" fill="none" stroke="#404040" stroke-width="2.0" stroke-linejoin="round" stroke-linecap="round"/>
<path d="M149.5 302.9 148.4 300.2 146.6 297.5 145.8 294 145.2 292.9 143.1 289.7 142.3 288.4 141.3 285 139.2 282.3 138.1 280.4 136.9 278.5 136.8 274.8 134.3 272.8 133.8 269.1 132.2 265.9 129.8 265.3 128.2 261.6 126.4 260.3 123.9 257.7 123 254.2 121.9 252.3 121.2 248.5 120.7 245.7 121 243.5 118.3 241.6 115.2 241.7 113.2 240 110.3 239.3 108.8 237.3 105.4 236.4 102.9 234.9 100 235.2 96.6 233.8 93.4 232.6 91.2 232.1 88.3 231.5 86.2 230.2 82.8 231.3 80.4 230.2 77 229.2 74.8 228.6 71.6 226.4 68.4 225.3 65.6 225 63 222.6 60.1 221.5 57.7 220.1 55.6 217.9 54.6 214.6 53 212.7 52.8 208.7 51.4 206.5 51.5 204.4 49.2 202.6 48.5 199.4 49.7 196.3 50 193.7 53.3 193.6 55.8 193 58.8 193.4 61.3 192.3 63.1 189.4 64.2 186.6 62.9 183.7 62.4 182.1 60.9 179.3 59.9 176.6 61.7 174.7 63.1 173 65 171.3 67 169.5 68.5 168.1 68.3 164.1 69.9 162.4 72.3 160.9 74.9 159.8 76.6 158.1 81.1 157 82.7 155.3 80 154.9 78 154.2 74.4 152 72.4 152.6 69.1 150.7 67 150.5 64.2 149.6 62.6 147 62.6 144.1 61.3 142.5 58.3 142.2 56.1 139.7 53.6 139.7 53.7 137.4 53.2 133.5 54.2 131.1 51.9 128.1 51.7 125.3 50 122.6 51.6 119.2 51.4 116.9 53.4 116.7 56.6 116 60 114.7 61.5 115.3 64.4 113.8 67.1 113.9 70.5 113 72.7 112.7 73.8 109.2 75.6 106.2 77 104.1 77.4 101.6 76.3 99.4 75.5 96.2 77.9 94.7 79.9 94 81.4 92 84.2 91.5 86.9 89.9 89.6 89.7 91.9 90.9 94.6 89.9 96.9 90.5 100 92 101.9 93 105 95.7 106.8 97 109 96.8 111.7 97.2 114.5 98.1 117 99.4 119.7 99.3 122.5 99.9 125.8 100.2 128.3 99.5 131 99.1 133 99.5 135.3 99.3 136.4 100.9 138.5 103.7 138.7 105.5 138.2 108.7 137.4 111.3 136.7 114.1 138.3 115.5 140 118.4 140.4 119.8 142.4 122.6 144.2 124.6 146.8 125.3 149.5 127.9 150.9 129.7 152.4 131.9 154.5 133.9 156 136.8 156.6 138.9 155.9 142.1 156.6 143.9 158.5 146.8 159.5 147.9 162.2 149.4 163.7 152.5 164.8 154.9 164.6 157.7 165.8 159.5 166.5 162.4 166.9 165.6 168.6 166.6 168.8 169.9 170.8 172.4 172 174.2 174.7 176 176.5 178 179.3 179.5 181.9 179.7 185.6 182.4 188 183 190.7 183.7 193.3 184 197.4 184.6 199.6 185.1 202.1 186.6 203.3 188.6 204.8 192.3 205.7 193.6 206.6 197.2 207.8 199.4 210.1 199.4 212.8 200.1 216.3 199.4 218.9 199.7 222 201.5 225.2 202.8 227.7 203.6 229.6 205.4 233.1 205.4 234.7 206.1 237.3 207.7 239.1 209.3 240.7 210.3 244.5 210.4 246.2 211.3 247.6 209.5 249.5 205.9 250.4 203.6 250.6 201.3 251.6 198.3 251.8 195.1 253.9 193.4 257.5 192.3 258.1 189.7 259.5 186 261.4 187.5 262.7 189.2 264.6 190.9 265.9 192.4 269.7 193.8 271.3 196 273.2 196.5 274.2 199.3 275.7 201.9 277.9 203.3 278.9 206.5 279.1 209.7 278.5 211.3 277.8 213.3 277.4 216.4 280 218.4 282.4 220.1 284.5 220.7 285.4 218.2 287.9 215 288.8 212.2 291.1 211.7 294.4 211 297 211.2 298.7 210.8 301.6 210.8 303.6 212.9 304.5 214.7 306.6 216.3 308.7 217.9 311.3 220.4 313.6 221.3 317.1 223 318.4 225 321.5 226.4 321.6 223.8 324 221.7 324.4 217.9 327 218.7 329.7 218.5 332.3 218.4 335.6 218.2 336.9 218.3 340 219.3M195.8 535.9 196.3 532.9 196.8 530.1 196.4 527.6 197.1 525.5 195.2 522.4 196.5 519.7 195.8 516.3 195.7 513 194.9 510.6 196 507.3 195 505 195 502.1 193.4 498.6 193.5 495.9 192.1 493.5 191.4 490.3 191.5 487.3 191 484.4 191.3 482.2 190.7 479.3 189.7 475.9 188.6 472.9 187.9 470.8 186.4 467.4 187.3 465 186.4 462.2 187.3 460 186.9 456.2 188.1 454 187.9 450.9 189.8 448.1 188.8 445.5 190.7 442.3 189.4 439.5 189.3 437.1 189.1 434.5 189.1 430.2 187.9 428.1 186.6 425.3 184.6 422.4 183.6 419.6 183.3 416 184.4 413.5 184.2 411.8 183.6 408.2 182.5 406.2 182 403.7 182.2 401.1 182.4 397.9 182 396.4 180.2 394.6 179.9 391.2 179.3 389.5 179.4 386.5 179.4 383.6 178.8 381.2 180.4 380.1 182.2 378.4 180.9 375.8 179.3 374.1 177.8 372.1 176 370.9 173.4 369.4 172.2 367 170.8 365.3 168.4 362.3 166.5 361.3 168.8 358.3 169.4 355.6 168.3 354.1 166 351.7 165.1 349.9 164.3 347.5 160.8 345.9 159.4 342.8 156.8 341.5 153.8 340.2 152.3 338.5 152.6 335.4 152.9 334 153.7 331.4 157.1 329.4 160 329.1 162.3 328 164.8 327.4 167.8 328.9 169.4 328.6 171.7 327.7 174.6 324.1 176.5 322.9 174.1 320.4 172.9 320 170.8 317.2 169.3 315.3 166.5 314.4 163.4 312.4 161.6 310.5 159.4 310.1 156.2 308.4 154.1 307.3 152.8 304.4 149.5 303M340.9 640.1 339.5 637.7 338.1 635.3 337.5 633.1 336.4 631.2 335.1 628.7 332.4 626.3 331.7 624.1 329.9 622.6 329 619.4 329.4 615.8 328.1 613.5 326 612 324.7 610.9 321.6 611.2 320.4 612.6 318.1 614 315.3 616 312 617.1 310.2 617.7 307.5 616.4 305.1 616 303 618.1 301.7 621.1 299.5 624.1 298.2 626.3 294.8 628 293.6 625.2 292.8 623.5 293.1 621.1 291.9 619.7 290.3 617.2 288 616 285.9 613.9 284.6 610.9 283.9 608.8 282.9 606.6 281.2 606.5 279.5 604.1 278.5 602.6 275.4 600.6 274.4 599 272.9 595.1 270.9 593 270.9 591.4 272.7 588.7 275.2 588.5 276.4 587.5 279.5 587 281.2 585.9 283.7 584.5 282.2 581.6 281.2 580.2 282 576.8 280.4 576.7 277.8 575.1 276 573.5 272.7 571.7 271.4 569.8 270.9 567.4 270.4 565.1 267.9 563.6 266.7 561.4 264.9 559.3 264.1 556.3 262.3 555 260.3 553.8 257.3 552.9 254.1 551.2 252.2 548.6 249.1 546.1 247.1 544.4 245.9 540.6 246.2 537.5M243.3 537.4 240.4 537.5 237.1 538.3 237.3 541 236.2 543.1 233.8 544.9 231.9 547.4 230.4 549.6 229 551 227.7 553.1 226.2 555.3 223.4 557.2 222 558.7 219.8 560.1 219.7 562.3 217.7 564.4 218.5 567.4 219.9 569.6 219.3 572 221.1 574.4 219.5 576.9 219 580.6 218.6 582.9 219.3 585.5 218 588 219.1 591.5 217 589.9 215.5 587.2 213.8 585.1 211.4 585 209.2 582.7 207.8 580.1 205.6 578.2 205.4 575.8 204.2 573 202.9 570.7 200.7 568.7 200.7 566 199.7 563.1 199.1 561.4 199.3 557.7 199.5 556.5 199.2 553.1 198.2 550.1 198.7 547.9 198 544.6 197 541.8 196.1 538.1 195.8 536M340 221.1 343.4 222.5 345.7 222.1 349 221.4 351.4 220.2 353.3 218.5 357.1 217.3 359.6 218.9 361.9 219.2 364 217.7 366.6 214.6 368.5 213.5 369 211.8 369.4 208.6 370.4 205.9 368.1 203.4 368.2 200.7 366.6 199.3 364.2 198.1 362.8 195.5 361.9 191.8 362.4 188.8 363.8 186 364.3 184.5 364.7 181.2 363.5 178.7 363.8 174.6 360.9 171.7 363.6 169.8 364.7 167.9 367.4 167.9 370.4 168.5 374.2 167.9 376 168.6 379 170.8 380.1 173.6 382.8 175.5 384.4 173.4 384.7 171.7 388.1 171.4 390.5 171.5 392.3 170.8 393.5 172.4 396.1 173.5 398.9 174.6 400.8 176.1 401.6 178.5 404.6 180.3 405.6 178.4 407.5 175.5 409.8 173.4 411 170.6 412.2 167.9 410.3 166.2 407.5 165.1 406.2 162.9 405.6 161.3 407.1 157.9 407.5 155.6 410.6 153.1 413.2 151.8 414.6 149.6 415 147.2 416 145.1 416.9 143.4 419.1 142.1 421.7 140.4 424.4 142 425.5 144.2 426.1 147.4 427.4 149.9 428.9 153.7 427.4 156.7 425.5 158.4 423.9 160.8 423.6 163.2 421.2 165.1 419 166 416 167.5 417 170.8 419.8 172.7 420.8 174.6 421.2 177.7 421.7 179.3 424 177.9 427.4 177.4 429.2 176 432.2 173.6 435.5 172.8 438.8 172.7 441.2 170.3 442.6 168.9 443.6 165.1 446 167.7 448.3 169.8 450.1 167.1 451.2 165.1 450.2 161.3 451.8 159.3 455 156.5 458.4 157 459.9 155.3 463.5 155.6 466 153.8 467.5 152.8 471.1 151.8 474 150.8 473.6 148.8 473 145.1 471 144.2 469.2 142.3 466.8 141.3 463.5 138.5 462.3 136.7 461.6 133.7 460.4 132.1 459.7 129.9 458.2 127.4 456.9 124.2 454 121.4 452.1 118.6 452.5 116.2 451.2 113.8 448.5 112.3 446.4 109 448.9 109.4 451.9 107.8 454 108.1 456 108.5 459.2 107.4 461.6 107.1 463.9 105.6 467.3 105.2 469.5 102.8 471.1 100.5 474.2 100 476.1 99.2 479.7 98.6 483.3 96.7 486.3 96.7 489.2 98.6 489.2 95.4 488.2 93.8 490 91.5 492 91 494.9 90M540 123.3 542.9 126.1 545.6 126 548.6 127.1 551.7 124.9 554.3 124.2 557.4 123.6 559 122.3 561.9 125.2 562.7 128.7 562.8 130.9 566.2 130 569.5 129.9 571.8 131.3 574.6 132 578 133.7 580.7 134.9 584.7 135.2 586.8 134.1 590.2 134.5 593.1 133.7 595.1 133.3 597.8 133.8 600.9 133.4 604.6 133.3 606.8 134.2 609.4 136.6 611.7 138.3 613.2 141.3 613.6 144.6 615.1 147 617.4 149 618.9 152.7 620.4 154.7 622.3 155.4 623.6 158.4 624.5 161 625.5 163.2 628.3 161.7 630.6 161.4 633.1 161.3 636 162.2 633.1 164.5 629.3 165.1 626.5 167.9 627.3 169.9 627.6 172.5 629.3 174.6 630.4 177.9 631.2 181.2 629.4 184 628.9 185.5 628.4 187.9 631.9 188.3 635 187.9 632.5 189.9 632.2 191.7 630.2 191.6 627.4 192.6 626 194.3 624.6 196.4 625.6 199.6 625.5 202.1 628.9 203.3 631.2 205 633.6 206.5 636.4 208.6 638.8 209.7 641.8 211.2 643.6 210.7 645.3 212.8 648.3 214.5 651 216.2 654 217.3 656.5 218 658.3 216.8 661.6 216.9 664.2 217.3 666.1 217.4 669.2 218.3 671.1 219.2 674.4 220.3 676.8 222.1 679.2 220.9 681.7 220.3 684.4 219.2 686.9 219 691.5 220.7 693.9 221.1 696 219.3 699.1 217.5 701.5 216.4 704.9 216.7 706.7 216.1 710.1 217.3 711.9 215.1 714.8 213.5 717.4 212 720.5 210.7 719.9 207.6 717.7 205 716.6 201.4 715.8 199.3 718 197.5 719.6 195.5 723.4 195.5 723.7 197.8 725.3 200.2 726.7 204.2 726.2 206.9 728.2 208.9 730 210.7 733.1 211.6 734.8 213.5 737.6 212.3 740.1 211.6M495.8 88.8 497.7 86.4 499.2 85.6 501.6 84.2 504.8 83.6 507.8 81.4 510.7 81.7 513.5 82.8 513.1 85.3 514.6 88.8M514.8 90 518.3 90.6 520.5 91.9 522.9 92.1 525.1 94.4 527.2 94.8 527.4 97.2 529.1 100.5 527.9 103.5 528.1 107.1 528.2 109.7 528.7 112.3 530 114.7 530.8 117.4 531 121.4 532.7 122.4 535.7 124.2 538.6 124.2 540.1 125.2M740 211.8 743.5 210.8 745.7 209.9 747.6 207.1 750.5 205.1 752.4 204.8 756.2 204 758.1 204.2 761 204.1 763.8 203.2 767.3 202 769.5 200.9 771 203.3 773.3 204.2 773.5 207.8 772.3 209.9 775.1 211.1 778 213.7 780.7 213.7 783 215.1 785.6 215.6 787.5 215.8 790.7 216.6 793.2 216.5 796.1 218.1 797.8 220.8 799.9 221.3 801.8 221.4 804.1 219.2 806.5 218.4 809.3 217.3 811 218.1 814.7 216.6 816.5 216.9 818.9 215.6 821.4 213.7 825 212.9 827.4 211.8 830.3 211.8 832.8 213.8 836.9 213.7 839.4 213.6 843.2 213.5 846.4 212.7 848.4 213.7 850.9 214 854 213.7 855.4 214.9 856.6 217.6 856.9 220.3 855.8 222.5 855.9 224.5 855.9 227.9 857.8 230.4 859.7 232.7 863.4 233 866.4 234.6 868.4 235.3 870.9 237.1 873 237.4 873.3 235.4 874.6 232.9 876.8 230.8 880 229.2 881.6 227.9 883.7 229.9 885.4 229.8 887.1 232.2 886.8 234.4 888.2 236.5 890.8 238.8 893.9 239.3 895.9 238.4 899.1 238 901.5 238.4 904.7 240.8 907.2 242.2 908.4 243.6 908.2 246.9 909.6 248.7 913.3 249.4 914.8 250.7 917.6 253.2 918.1 256.3 920.5 258.3 923 258.9 927.2 259.3 929.7 257.7 931.9 256.5 933.8 254.5 936.4 253.4 940.1 253.6M942.4 254.2 944.4 253.6 946.8 251.5 950 250.9 952.5 251.9 955.9 251.7 957.6 252.3 959.7 252.1 963.3 251.4 965.2 250.9 968.4 250.7 971.9 250.9 973.7 253.3 974.7 254.2 973.4 255.5 971.9 258 968.8 258.3 965.2 258.9 964.3 261.8 967 263.3 969 264.6 968.8 266.9 967.1 268.4 963.7 269.7 960.5 270.3 959.5 274.1 957 274.5 954.8 276 955 278.1 955.7 280.8 958.8 282.3 961.4 284.6 963.8 286.3 967.1 288.4 969.1 290.1 971.3 290.5 973.8 292.2 976.6 295 975.4 298.4 975.7 300.7 973.1 301.7 970.9 304.5 968.9 307.1 966.2 308.3 963.7 310.8 961.4 311.2 959 311.7 956.1 313.3 953.8 314 951.4 315.5 948.1 315.9 948.1 319.1 949.1 321.6 947.5 323.4 945.3 326.4 945 329 943.4 332.1 941.4 334.2 938.2 334.9 936.7 335.9 937.8 339.4 938.6 341.6 937.2 344.5 935.8 347.3 935.9 350.2 934.4 353 934.8 356M932 357.5 933.7 359.8 933.9 363.2 931.8 365.3 929.5 366.3 927.2 367.9 924.2 368.7 923.9 370.7 920.6 371.7 917.7 370.7 914.9 370.2 912 369.8 910.3 368.3 910.1 366 906.8 367.5 904.4 369.8 902.3 370.1 899.4 367.8 896.8 367.9 893.2 369 890.2 368.9 887.6 370.8 886.5 372.9 885.4 374.6 886.6 377.7 886.4 381.2 888.2 383.4 891.1 385 889.4 388.7 887.3 390.7 886.3 392.6 885.4 396.4 884 398.9 881.6 400.2 879 401.7 877.8 404 875.8 405.5 874 408.8 872.3 410.6 870.2 413.5 868.9 416 866.4 419.2 865 421.2 862.2 424.3 860.7 426.8 858 428.9 857.1 432.2 855 433.5 851.9 434.7 850.9 435.2 848.2 435.8 845.5 437.3 842.4 435.8 839.3 435.3 836 435.4 833 436.4 830.3 436.3 827.5 437.3 826.2 434.2 825.6 430.6 825.2 428.1 823.7 424.9 821.4 423.5 820.6 421.4 818 419.2 818.2 415.5 818.9 413.5 816 412.8 814.2 411.6 812.3 412.3 808.3 412.7 807 412.4 803.7 413.5 801.4 415.3 799.9 417.3 796.8 419.4 794.2 421.1 792.2 421.6 789.7 421.9 786.6 423 783.1 421.1 780.9 419.2 779.1 416.6 777.4 413.9 775.2 411.6 772.5 409.8 769.8 408.6 767.6 405.9 764.5 404 763.8 402.1 762.2 399.5 760 398.3M763.9 406.4 760.8 406.6 759 405.7 756 405.7 754.1 405.1 750.4 403.3 747.9 405.7 746.4 407.5 745.5 409.4 744.1 410.7 743 413.1 744.2 416.8 741.6 416.5 739.3 417.4 736.2 417.4 734.4 418.1 735.6 421.8 734.1 423.3 731.9 424.2 729.4 426.1M730 426.2 732 427.4 734.9 429.9 737.2 432.5 739.8 433.6 741.9 434.9 743 436.3 746 437.3 744.8 440.1 743.5 442.2 742.3 445.9 744.1 449.6 741.3 450.7 738.6 452 736 453 732.4 453.3 731.3 455.4 730.6 458.2 727.4 459.9 726.3 461.9 723.8 462.2 721.3 464.4 718.9 463.7 717 466.8 715.4 467.7 712.7 469.3 711.5 470.8 709 473 708.2 476.2 707.8 477.9 708.5 479.8 710.2 481.6 712.9 482.9 713.9 484.1 717.3 485.3 718.9 487.2 718.7 488.8 720.1 491.5 718.2 495.2 721 496.9 723.8 497 726.8 497.7 730 498.9 733.1 499.4 736.1 499.5 739.4 498.9 741 497.6 742.2 499.8 743.5 503.8 743.7 507.2 744.7 510 744.2 512.3 744.1 516.1 746 518.9 746 521M745.5 520.5 746.4 523.3 749.3 525 752.1 527.1 754.7 528.7 758.8 529 760.3 528.1 763 525.7 764.5 524.3 767.4 525.3 769 527.8 771.1 528.1 775 529 777.5 529.1 780.6 529 782.5 531.7 784.4 533.2 786.3 534.7 787.4 536.8 788 540.3 788.2 542.3 788.5 544.5 789 546.7 791.7 548.9 792 551.8 794.3 555.1 794.7 557.3 795.8 560.4 796 563 797.3 565.1 794.8 564.4 792 564.2 789.9 561.8 788.5 560.6 787.3 558.5 784.9 557 781.6 554.7 778.8 553.3 776.8 550.9 774.3 549 771.1 548 768.1 546.6 766.4 545 765.4 543.3 761.6 544.2 761.3 547 760.5 548.5 758.8 550.9 757.2 553.2 755.9 554.7 753.5 554.8 750.8 554.9 748.3 554.7 745.1 555.9 744 556.4 740.7 556.6 738.9 558.7 736.9 561.3 735.8 563.3 735 567 735.3 569.4 735.4 571.9 736.9 574.6 738.7 577.1 740.7 580.3 742.6 579.6 745.1 578.8 747.4 577.5 749.2 579.5 752.1 581.3 754.1 583.7 755.9 586 756.1 589.2 756.9 591.7 758.5 592.3 761 592.8 763.5 594.6 765.3 593.3 768.4 593 771.1 591.7 773.1 592.7 775.7 591.8 778.7 592.7 781.8 593.9 783.3 595.7 786.3 597.4 787.6 600.5 789.7 602.6 791.1 605 791.7 607.5 793.6 609.6 793.9 612.6 793.1 615.2 793.9 618.3 791.5 619.6 788.2 622.1 785 622.4 783.4 623.5 780.6 624 778.5 623.7 776.1 624 773 623.1 770.3 623.7 766.9 624.5 765.4 625.9 762 625.7 761 625.9 757.8 626.9 754.6 628 752.5 626.9 750.2 627.8 747.7 628.5 745.7 629.6 742.6 630.7 739.6 631.5 736 632.6 732.7 630.8 731.2 628.8 728.2 626.7 725.8 625.8 723.6 624 720.6 625.2 718.4 625.8 716 625.9 713.7 626.7 711.2 628.5 708.4 628.8 707.3 624.9 706.5 622.1 704.4 620 702.7 616.4 703.1 613.3 703.6 611 704.6 608.8 702.6 608 701.1 604.7 698.9 603.1 699.7 600 701.8 597.4 699.4 597.1 697 598.4 694.3 598.3 692.1 598.4 688.3 597.7 685.6 598.4 683.2 599.9 679.9 601.2 678.8 604.6 676.9 605.8 676.1 608.8 673.4 609.9 672 611.5 668.5 612.6 666.5 612.4 664.2 613 660.9 613.6 659.3 615 655.9 614.8 653.3 614.9 651.4 616.4 647.6 617.4 645.8 616.2 643 613.5 640 612.6M660 611.6 657.3 612.2 653.8 614.6 651.2 615.6 649.2 617.7 646.7 616.3 644.6 613.9 641.8 612.5 640.1 610.1 637.5 608.8 635.4 607.3 634 605.5 631.5 603.6 629.4 602.4 625.6 600.9 628.4 600.3 630.9 597.9 633.1 597.5 635.5 596.4 637.8 593.3 636.4 590.9 634.7 590.3 635.5 587.2 639.3 585.7 637.8 581.9 635.2 580.2 632.5 579.6 630.2 577.9 629.4 576.6 626.7 574.8 624.8 575 623.2 572.4 622.6 570.5 622.4 567.6 621.8 565.9 623 563.8 623.3 561.3 625.7 559.6 627.6 559 629.4 557.5 631.6 557.3 634.7 555.2 635.5 553 632.4 553.5 629.4 552.2 626.3 552.9 623.7 552.9 621.8 552.2 619.8 552.5 616.5 551.2 614.2 551.4 611.1 552.8 608.1 553.7 604.3 552.7 602 552.2 598.9 553 595.9 553.7 593.8 553.4 591.4 553 590.6 551.7 588.3 549.9 587 553.1 586.8 555.2 584.5 557.7 583 560.6 581.8 561.6 579.2 562.9 576.1 562.1 578.2 563.1 579.2 565.1 582.2 565.3 583.7 564.4 586 566.7 586.8 568.9 587 571.3 588.3 573.5 588.6 575.6 590.6 578.1 588.9 579.8 586.8 581.1 584.4 581.8 582.2 583.4 579.6 585.6 577.6 586.5 574.6 584.2 572.4 583.6 570 582.6 568.1 584.5 565.5 585.7 563.2 586.8 560.9 588.7 558.4 590.8 556.3 593.3 555.6 596.7 554 597.9 554 600.3 553.3 602.4 554.9 603.8 557.9 604 560.5 604.6 563.2 607 562.3 610.1 560.9 611.6 560.3 613.9 559.4 617.7 558.2 620 557 621.9 554.8 623.8 552.1 625.5 550.2 628.3 547.2 630M540.1 639.3 538.1 642.1 535.7 644 534.4 647.3 531.9 649.7 530.3 650.9 528.1 653.5 525.6 653.9 522.4 654.5 519.2 655.1 516.7 656.4 513.4 657.2 511 659.2 510.8 661.7 509.1 664.9 508.4 667.9 509.3 669.9 508.2 672.5 508.3 675.7 506.9 678.9 507.2 682 507.1 685.7 508.3 688.5 508.2 691.5 509.9 693.9 511.4 696.8 512.9 699.1 515 701.9 515.8 703.6 516.7 706.7 516.9 710.2 518.4 712.4 518.6 714.3 520.2 718.1 520.2 719.8 520.5 723.8 519.5 725.5 518.9 727.6 519.1 730.9 517.7 733.3 517.4 736.1 515.9 738.8 514.8 740.9 511.3 743.2 509.1 744.7 507.2 743.9 503.5 743.3 501.5 743.8 499.5 745.3 498.3 747.2 495.8 748.5 494.6 750.4 492 752.3 489.5 750.8 486.3 749.5 485.8 746.8 484.4 744.7 482.7 743.5 479.5 742.2 476.8 741.9 474.6 742.5 471.8 743.4 469.2 744.7 466.4 745.7 464.7 747.7 461.6 748.5 459.4 749.5 456.3 752.2 454 754.2 452 755.6 450.3 758 448.3 759.9 445.8 761 442.6 763.7 440.1 762.9 436.9 761.8 434.8 761.4 432.2 761.8 429.3 760.9 426.7 761.1 423.6 762.3 421.7 763.7 420.8 766.6 420 763.7 419.2 760.2 419.8 758 417.6 757 414.1 756.1 411.3 754.2 408.4 752.3 406.5 750.4 403.7 748.5 402.8 745.6 400.8 743.8 402.5 741 404.6 740 403.4 737.4 400.8 735.2 397.7 732.6 395.1 731.4 393.2 729.3 389.4 727.6 388.2 725.6 385.6 723.8 386.7 721.3 386.6 719.1 389 717.2 390.4 716.2 391.5 712.6 391.3 710.5 390.5 708 388.5 706.7 385.7 707.4 383.7 708.6 382.8 704.8 383.6 702.8 384.7 701 383.6 699.5 381.8 697.2 379.2 695.2 378.2 692.7 376.1 691.5 373.4 689.3 370.4 687.7 367.4 685.5 364.7 683.9 363.5 681.6 365 679.2 363.8 676.3 364.1 674.6 364.7 671.6 361.2 671.4 359 670.6 355.2 669.7 353 667.4 352.8 664.4 351.4 663 349.8 659.6 349.5 657.3 347.5 654.6 345.7 651.6 345 648.3 342.9 645.9 342.8 643.6 341.9 640.2 340.3 639.1 340 636.4" fill="none" stroke="#303030" stroke-width="2.0" stroke-linejoin="round" stroke-linecap="round"/>
<text x="117" y="174.36" class="cn">石渠</text>
<text x="168.1" y="275.56" class="cn">德格</text>
<text x="238.7" y="268.46" class="cn">甘孜</text>
<text x="272.8" y="250.56" class="cn">色达</text>
<text x="197.1" y="362.76" class="cn">白玉</text>
<text x="244.1" y="357.51" class="cb">甘孜州</text>
<text x="269.1" y="359.86" class="cn">新龙</text>
<text x="306.1" y="327.16" class="cn">炉霍</text>
<text x="203.1" y="460.86" class="cn">巴塘</text>
<text x="276.8" y="461.66" class="cn">理塘</text>
<text x="235.5" y="520.56" class="cn">乡城</text>
<text x="202.8" y="556.76" class="cn">得荣</text>
<text x="276.8" y="544.56" class="cn">稻城</text>
<text x="491.7" y="142.36" class="cn">若尔盖</text>
<text x="410.9" y="201.26" class="cn">阿坝</text>
<text x="472.6" y="231.66" class="cn">红原</text>
<text x="455.4" y="243.31" class="cb">阿坝州</text>
<text x="579.6" y="172.56" class="cn">九寨沟</text>
<text x="544" y="228.76" class="cn">松潘</text>
<text x="623.4" y="237.16" class="cn">平武</text>
<text x="682.7" y="236.36" class="cn">青川</text>
<text x="746.4" y="224.96" class="cn">朝天区</text>
<text x="730.8" y="240.76" class="cn">利州区</text>
<text x="785.8" y="252.46" class="cn">旺苍</text>
<text x="725.2" y="263.01" class="cb">广元市</text>
<text x="737.5" y="269.26" class="cn">昭化区</text>
<text x="760.2" y="289.56" class="cn">苍溪</text>
<text x="820" y="255.56" class="cn">南江</text>
<text x="869" y="272.46" class="cn">通江</text>
<text x="835.4" y="282.41" class="cb">巴中市</text>
<text x="822" y="298.66" class="cn">巴州区</text>
<text x="920.7" y="281.56" class="cn">万源</text>
<text x="917.5" y="325.86" class="cn">宣汉</text>
<text x="854.3" y="316.76" class="cn">平昌</text>
<text x="864.8" y="333.46" class="cn">通川区</text>
<text x="880.5" y="337.71" class="cb">达州市</text>
<text x="866.7" y="353.46" class="cn">达川区</text>
<text x="340.6" y="274.56" class="cn">壤塘</text>
<text x="416.7" y="280.66" class="cn">马尔康</text>
<text x="509.3" y="261.26" class="cn">黑水</text>
<text x="403.9" y="320.56" class="cn">金川</text>
<text x="510.8" y="317.76" class="cn">理县</text>
<text x="465" y="350.56" class="cn">小金</text>
<text x="355.4" y="367.16" class="cn">道孚</text>
<text x="402.9" y="372.46" class="cn">丹巴</text>
<text x="483.7" y="401.36" class="cn">宝兴</text>
<text x="552.5" y="293.56" class="cn">茂县</text>
<text x="608.6" y="289.26" class="cn">北川</text>
<text x="600" y="328.66" class="cn">绵竹</text>
<text x="531.6" y="342.26" class="cn">汶川</text>
<text x="641.7" y="291.51" class="cb">绵阳市</text>
<text x="663.9" y="286.16" class="cn">江油</text>
<text x="713.8" y="285.56" class="cn">剑阁</text>
<text x="689.8" y="307.06" class="cn">梓潼</text>
<text x="636.8" y="328.06" class="cn">涪城区</text>
<text x="710.1" y="342.86" class="cn">盐亭</text>
<text x="748.3" y="336.06" class="cn">南部</text>
<text x="759.7" y="313.26" class="cn">阆中</text>
<text x="551.3" y="358.26" class="cn">都江堰</text>
<text x="577.2" y="384.61" class="cb">成都市</text>
<text x="537.8" y="395.26" class="cn">大邑</text>
<text x="540.6" y="413.16" class="cn">邛崃</text>
<text x="572.9" y="409.46" class="cn">新津</text>
<text x="571" y="427.26" class="cn">彭山区</text>
<text x="593.2" y="395.26" class="cn">锦江区</text>
<text x="609.7" y="381.06" class="cn">青白江区</text>
<text x="611.1" y="361.36" class="cn">广汉</text>
<text x="630.8" y="416.16" class="cn">简阳</text>
<text x="672.5" y="357.66" class="cn">三台</text>
<text x="654.7" y="371.26" class="cn">中江</text>
<text x="707" y="372.46" class="cn">射洪</text>
<text x="708.3" y="392.01" class="cb">遂宁市</text>
<text x="713.8" y="406.36" class="cn">船山区</text>
<text x="742.8" y="358.86" class="cn">西充</text>
<text x="673.8" y="418.06" class="cn">乐至</text>
<text x="671.9" y="433.31" class="cb">资阳市</text>
<text x="734.8" y="392.16" class="cn">蓬溪</text>
<text x="621.4" y="355.71" class="cb">德阳市</text>
<text x="619.7" y="346.56" class="cn">旌阳区</text>
<text x="799.7" y="328.46" class="cn">仪陇</text>
<text x="764.2" y="351.71" class="cb">南充市</text>
<text x="791.6" y="363.66" class="cn">蓬安</text>
<text x="834.3" y="367.46" class="cn">渠县</text>
<text x="912.2" y="361.76" class="cn">开江</text>
<text x="771.7" y="382.66" class="cn">高坪区</text>
<text x="812.6" y="396.86" class="cn">广安区</text>
<text x="800.3" y="411.61" class="cb">广安市</text>
<text x="860" y="392.16" class="cn">大竹</text>
<text x="771.6" y="416.86" class="cn">武胜</text>
<text x="837.7" y="423.46" class="cn">邻水</text>
<text x="515.5" y="437.16" class="cn">名山区</text>
<text x="563.6" y="440.26" class="cn">东坡区</text>
<text x="606.8" y="447.66" class="cn">仁寿</text>
<text x="555.6" y="457.41" class="cb">眉山市</text>
<text x="549.5" y="465.56" class="cn">夹江</text>
<text x="518.7" y="472.96" class="cn">洪雅</text>
<text x="566" y="478.46" class="cn">市中区</text>
<text x="549.4" y="499.46" class="cn">沙湾区</text>
<text x="502.1" y="506.86" class="cn">金口河区</text>
<text x="547" y="516.51" class="cb">乐山市</text>
<text x="584" y="509.26" class="cn">犍为</text>
<text x="633.3" y="482.16" class="cn">威远</text>
<text x="636.4" y="507.41" class="cb">自贡市</text>
<text x="644.8" y="439.66" class="cn">雁江区</text>
<text x="702.1" y="447.66" class="cn">安岳</text>
<text x="654.7" y="462.46" class="cn">资中</text>
<text x="652.2" y="480.81" class="cb">内江市</text>
<text x="671.3" y="483.36" class="cn">东兴区</text>
<text x="691.6" y="498.16" class="cn">隆昌</text>
<text x="670.7" y="519.76" class="cn">富顺</text>
<text x="710.1" y="519.16" class="cn">泸县</text>
<text x="659.3" y="539.96" class="cn">南溪区</text>
<text x="700.2" y="541.86" class="cn">江阳区</text>
<text x="699.2" y="558.96" class="cn">纳溪区</text>
<text x="750.4" y="551.36" class="cn">合江</text>
<text x="727.8" y="572.71" class="cb">泸州市</text>
<text x="664" y="569.36" class="cn">长宁</text>
<text x="681.1" y="591.26" class="cn">兴文</text>
<text x="657.3" y="595.06" class="cn">珙县</text>
<text x="636.4" y="609.26" class="cn">筠连</text>
<text x="707.7" y="604.56" class="cn">叙永</text>
<text x="750.4" y="611.56" class="cn">古蔺</text>
<text x="505.2" y="529.86" class="cn">峨边彝族自治</text>
<text x="575.6" y="529.06" class="cn">沐川</text>
<text x="527.3" y="550.36" class="cn">马边彝族自治</text>
<text x="616.4" y="547.36" class="cn">叙州区</text>
<text x="623" y="568.31" class="cb">宜宾市</text>
<text x="637.2" y="574.76" class="cn">高县</text>
<text x="514.7" y="577.06" class="cn">美姑</text>
<text x="549.7" y="594.56" class="cn">雷波</text>
<text x="494.9" y="606.66" class="cn">昭觉</text>
<text x="508.1" y="412.96" class="cn">芦山</text>
<text x="472.3" y="439.56" class="cn">天全</text>
<text x="503.3" y="450.26" class="cn">雨城区</text>
<text x="471" y="456.81" class="cb">雅安市</text>
<text x="475.4" y="470.06" class="cn">荥经</text>
<text x="402.3" y="450.26" class="cn">康定</text>
<text x="430.5" y="465.46" class="cn">泸定</text>
<text x="475.4" y="495.96" class="cn">汉源</text>
<text x="444.9" y="514.26" class="cn">石棉</text>
<text x="392.8" y="544.16" class="cn">九龙</text>
<text x="426.9" y="565.46" class="cn">冕宁</text>
<text x="474.7" y="563.76" class="cn">越西</text>
<text x="461" y="595.26" class="cn">喜德</text>
<text x="430.8" y="624.26" class="cn">西昌</text>
<text x="413.5" y="641.81" class="cb">凉山州</text>
<text x="371.8" y="637.96" class="cn">盐源</text>
<text x="469.6" y="649.86" class="cn">普格</text>
<text x="496.9" y="646.46" class="cn">布拖</text>
<text x="327.8" y="577.26" class="cn">木里</text>
<text x="437.5" y="668.26" class="cn">德昌</text>
<text x="480.8" y="689.66" class="cn">宁南</text>
<text x="420" y="699.16" class="cn">米易</text>
<text x="389.6" y="705.26" class="cn">盐边</text>
<text x="384.6" y="720.51" class="cb">攀枝花市</text>
<text x="402" y="729.96" class="cn">东区</text>
<text x="442.8" y="727.16" class="cn">会理</text>
<text x="481.8" y="731.86" class="cn">会东</text>
<text x="390.7" y="749.36" class="cn">仁和区</text>
<text x="526.3" y="640.66" class="cn">金阳</text>
<text x="331.6" y="463.46" class="cn">雅江</text>
<rect x="40" y="70.5" width="955" height="700.5" fill="none" stroke="#4a4a4a" stroke-width="1.2"/>
<text x="32.3" y="775.7" text-anchor="end" class="tk">26N</text>
<text x="32.3" y="692.7" text-anchor="end" class="tk">27N</text>
<text x="32.3" y="609.7" text-anchor="end" class="tk">28N</text>
<text x="32.3" y="526.7" text-anchor="end" class="tk">29N</text>
<text x="32.3" y="443.7" text-anchor="end" class="tk">30N</text>
<text x="32.3" y="360.7" text-anchor="end" class="tk">31N</text>
<text x="32.3" y="277.7" text-anchor="end" class="tk">32N</text>
<text x="32.3" y="194.7" text-anchor="end" class="tk">33N</text>
<text x="32.3" y="111.7" text-anchor="end" class="tk">34N</text>
<text x="103.3" y="789" text-anchor="middle" class="tk">98E</text>
<text x="186.3" y="789" text-anchor="middle" class="tk">99E</text>
<text x="269.3" y="789" text-anchor="middle" class="tk">100E</text>
<text x="352.3" y="789" text-anchor="middle" class="tk">101E</text>
<text x="435.3" y="789" text-anchor="middle" class="tk">102E</text>
<text x="518.3" y="789" text-anchor="middle" class="tk">103E</text>
<text x="601.3" y="789" text-anchor="middle" class="tk">104E</text>
<text x="684.3" y="789" text-anchor="middle" class="tk">105E</text>
<text x="767.3" y="789" text-anchor="middle" class="tk">106E</text>
<text x="850.3" y="789" text-anchor="middle" class="tk">107E</text>
<text x="933.3" y="789" text-anchor="middle" class="tk">108E</text>
<path d="M35.5 771 H40M35.5 688 H40M35.5 605 H40M35.5 522 H40M35.5 439 H40M35.5 356 H40M35.5 273 H40M35.5 190 H40M35.5 107 H40M103.3 771 V775.5M186.3 771 V775.5M269.3 771 V775.5M352.3 771 V775.5M435.3 771 V775.5M518.3 771 V775.5M601.3 771 V775.5M684.3 771 V775.5M767.3 771 V775.5M850.3 771 V775.5M933.3 771 V775.5" stroke="#4a4a4a" stroke-width="1.1" fill="none"/>
<text x="376.72" y="27.48" font-family="&quot;Liberation Sans&quot;,&quot;Noto Sans CJK SC&quot;,sans-serif" font-size="27.1" font-weight="bold" fill="#ff0000" stroke="#ff0000" stroke-width="0.7" stroke-linejoin="round" textLength="302.6" lengthAdjust="spacingAndGlyphs">四川省24小时强降雨落区</text>
<text x="194.83" y="66.22" font-family="&quot;Liberation Sans&quot;,&quot;Noto Sans CJK SC&quot;,sans-serif" font-size="34.26" fill="#000000" textLength="666.3" lengthAdjust="spacingAndGlyphs">2025年07月18日20时-2025年07月19日20时</text>
<text x="53.97" y="749.99" font-family="&quot;Liberation Sans&quot;,&quot;Noto Sans CJK SC&quot;,sans-serif" font-size="25.3" fill="#000000" textLength="202.6" lengthAdjust="spacingAndGlyphs">四川省气象台制作</text>
<rect x="859.6" y="593.4" width="120.8" height="118" fill="#fff" stroke="#4a4a4a" stroke-width="1.2"/>
<text x="864.5" y="613.43" font-family="&quot;Liberation Sans&quot;,&quot;Noto Sans CJK SC&quot;,sans-serif" font-size="14.1" fill="#000000" textLength="84.4" lengthAdjust="spacingAndGlyphs">降雨落区等级</text>
<rect x="865" y="624.2" width="34" height="16.8" fill="#ffffff" stroke="#f2f2f2" stroke-width="0.8"/>
<rect x="865" y="644.1" width="34" height="16.8" fill="#5cb4ff"/>
<rect x="865" y="664.1" width="34" height="16.8" fill="#0000ff"/>
<rect x="865" y="684.0" width="34" height="16.8" fill="#ff00ff"/>
<text x="903.92" y="637.02" font-family="&quot;Liberation Sans&quot;,&quot;Noto Sans CJK SC&quot;,sans-serif" font-size="12.3" fill="#000000">无</text>
<text x="904.2" y="656.9" class="lg" textLength="49.4" lengthAdjust="spacingAndGlyphs">25 - 49.9</text>
<text x="904.2" y="676.9" class="lg" textLength="49.4" lengthAdjust="spacingAndGlyphs">50 - 99.9</text>
<text x="904.2" y="696.9" class="lg" textLength="53.2" lengthAdjust="spacingAndGlyphs">100 - 250</text>
</svg>
</body></html>
